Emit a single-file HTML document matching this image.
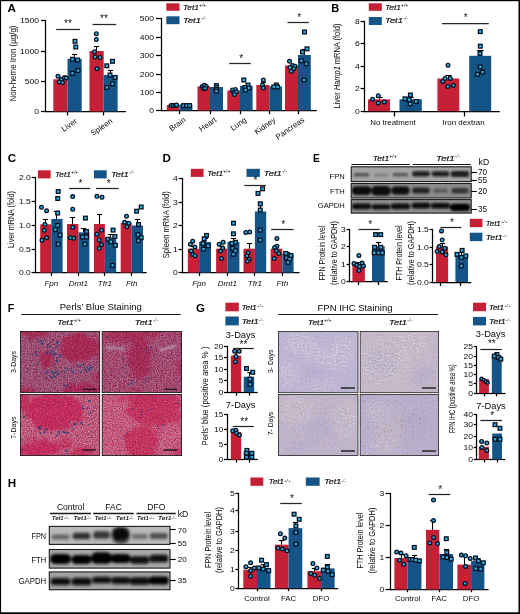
<!DOCTYPE html>
<html><head><meta charset="utf-8"><title>Figure</title>
<style>
html,body{margin:0;padding:0;background:#fff;}
body{width:520px;height:614px;overflow:hidden;font-family:"Liberation Sans",sans-serif;}
svg{display:block;font-family:"Liberation Sans",sans-serif;will-change:transform;-webkit-font-smoothing:antialiased;}
</style></head><body>
<svg width="520" height="614" viewBox="0 0 520 614">
<defs>
<filter id="b1" x="-30%" y="-60%" width="160%" height="220%"><feGaussianBlur stdDeviation="1.1"/></filter>
<filter id="b2" x="-30%" y="-60%" width="160%" height="220%"><feGaussianBlur stdDeviation="1.7"/></filter>
<filter id="b4" x="-40%" y="-40%" width="180%" height="180%"><feGaussianBlur stdDeviation="4"/></filter>
<filter id="b6" x="-40%" y="-40%" width="180%" height="180%"><feGaussianBlur stdDeviation="6"/></filter>
<filter id="nzP" x="0" y="0" width="100%" height="100%" color-interpolation-filters="sRGB">
  <feTurbulence type="fractalNoise" baseFrequency="0.83" numOctaves="2" seed="7" result="t"/>
  <feColorMatrix in="t" type="matrix" values="0.125 -0.188 0 0 0.641  0.750 0.062 0 0 -0.106  0.575 0.150 0 0 0.087  0 0 0 0 1"/>
</filter>
<filter id="nzP2" x="0" y="0" width="100%" height="100%" color-interpolation-filters="sRGB">
  <feTurbulence type="fractalNoise" baseFrequency="0.87" numOctaves="2" seed="23" result="t"/>
  <feColorMatrix in="t" type="matrix" values="0.125 -0.188 0 0 0.671  0.750 0.062 0 0 -0.126  0.575 0.150 0 0 0.077  0 0 0 0 1"/>
</filter>
<filter id="nzP3" x="0" y="0" width="100%" height="100%" color-interpolation-filters="sRGB">
  <feTurbulence type="fractalNoise" baseFrequency="0.85" numOctaves="2" seed="31" result="t"/>
  <feColorMatrix in="t" type="matrix" values="0.125 -0.188 0 0 0.811  0.750 0.062 0 0 -0.046  0.575 0.150 0 0 0.137  0 0 0 0 1"/>
</filter>
<filter id="nzP4" x="0" y="0" width="100%" height="100%" color-interpolation-filters="sRGB">
  <feTurbulence type="fractalNoise" baseFrequency="0.81" numOctaves="2" seed="47" result="t"/>
  <feColorMatrix in="t" type="matrix" values="0.125 -0.188 0 0 0.831  0.750 0.062 0 0 -0.046  0.575 0.150 0 0 0.147  0 0 0 0 1"/>
</filter>

<filter id="nzG" x="0" y="0" width="100%" height="100%" color-interpolation-filters="sRGB">
  <feTurbulence type="fractalNoise" baseFrequency="0.8" numOctaves="2" seed="3" result="t"/>
  <feColorMatrix in="t" type="matrix" values="0 0 0 0 0.45  0 0 0 0 0.05  0 0 0 0 0.18  0 2.4 0 0 -1.0"/>
</filter>
<filter id="nzL" x="0" y="0" width="100%" height="100%" color-interpolation-filters="sRGB">
  <feTurbulence type="fractalNoise" baseFrequency="0.8" numOctaves="2" seed="5" result="t"/>
  <feColorMatrix in="t" type="matrix" values="0 0 0 0 0.86  0 0 0 0 0.74  0 0 0 0 0.78  0 0 2.4 0 -1.0"/>
</filter>
<filter id="b3" x="-40%" y="-40%" width="180%" height="180%"><feGaussianBlur stdDeviation="1.8" result="g"/><feTurbulence type="fractalNoise" baseFrequency="0.12" numOctaves="2" seed="9" result="n"/><feDisplacementMap in="g" in2="n" scale="11" xChannelSelector="R" yChannelSelector="G"/></filter>
<filter id="nzI" x="0" y="0" width="100%" height="100%" color-interpolation-filters="sRGB">
  <feTurbulence type="fractalNoise" baseFrequency="0.6" numOctaves="2" seed="11" result="t"/>
  <feColorMatrix in="t" type="matrix" values="0.32 0 0 0 0.60  0.36 0 0 0 0.55  0.2 0 0 0 0.72  0 0 0 0 1"/>
</filter>
<filter id="nzT" x="0" y="0" width="100%" height="100%" color-interpolation-filters="sRGB">
  <feTurbulence type="fractalNoise" baseFrequency="0.9" numOctaves="1" seed="41" result="t"/>
  <feColorMatrix in="t" type="matrix" values="0 0 0 0 0.74  0 0 0 0 0.60  0 0 0 0 0.50  0 2.2 1.6 0 -1.75"/>
</filter>
</defs>
<rect x="0" y="0" width="520" height="614" fill="#fff"/>

<text transform="translate(7.60 12.40) scale(1.0 1)" x="0" y="0" font-size="11.6" font-weight="bold" fill="#000">A</text>
<line x1="45.50" y1="19.90" x2="45.50" y2="112.10" stroke="#000" stroke-width="1.25" stroke-linecap="butt"/>
<line x1="41.00" y1="20.50" x2="45.50" y2="20.50" stroke="#000" stroke-width="1.25" stroke-linecap="butt"/>
<text x="39.00" y="23.31" font-size="7.8" text-anchor="end" font-weight="normal" font-style="normal" fill="#0a0a0a" textLength="19.08" lengthAdjust="spacingAndGlyphs">1500</text>
<line x1="41.00" y1="51.50" x2="45.50" y2="51.50" stroke="#000" stroke-width="1.25" stroke-linecap="butt"/>
<text x="39.00" y="54.31" font-size="7.8" text-anchor="end" font-weight="normal" font-style="normal" fill="#0a0a0a" textLength="19.08" lengthAdjust="spacingAndGlyphs">1000</text>
<line x1="41.00" y1="81.50" x2="45.50" y2="81.50" stroke="#000" stroke-width="1.25" stroke-linecap="butt"/>
<text x="39.00" y="84.31" font-size="7.8" text-anchor="end" font-weight="normal" font-style="normal" fill="#0a0a0a" textLength="14.31" lengthAdjust="spacingAndGlyphs">500</text>
<line x1="41.00" y1="111.50" x2="45.50" y2="111.50" stroke="#000" stroke-width="1.25" stroke-linecap="butt"/>
<text x="39.00" y="114.31" font-size="7.8" text-anchor="end" font-weight="normal" font-style="normal" fill="#0a0a0a" textLength="4.77" lengthAdjust="spacingAndGlyphs">0</text>
<line x1="44.90" y1="111.50" x2="126.00" y2="111.50" stroke="#000" stroke-width="1.25" stroke-linecap="butt"/>
<line x1="67.50" y1="111.50" x2="67.50" y2="115.40" stroke="#000" stroke-width="1.25" stroke-linecap="butt"/>
<line x1="103.50" y1="111.50" x2="103.50" y2="115.40" stroke="#000" stroke-width="1.25" stroke-linecap="butt"/>
<text x="15.60" y="63.50" font-size="9.0" text-anchor="middle" font-weight="normal" font-style="normal" fill="#0a0a0a" transform="rotate(-90 15.60 63.50)" textLength="76.00" lengthAdjust="spacingAndGlyphs">Non-heme Iron (µg/g)</text>
<rect x="53.30" y="79.30" width="14.20" height="32.20" fill="#c62036"/>
<rect x="67.50" y="58.80" width="14.20" height="52.70" fill="#145487"/>
<rect x="89.50" y="51.00" width="14.20" height="60.50" fill="#c62036"/>
<rect x="103.70" y="75.00" width="13.90" height="36.50" fill="#145487"/>
<line x1="60.50" y1="79.30" x2="60.50" y2="77.50" stroke="#000" stroke-width="1.1" stroke-linecap="butt"/>
<line x1="57.90" y1="77.50" x2="63.10" y2="77.50" stroke="#000" stroke-width="1.1" stroke-linecap="butt"/>
<line x1="74.50" y1="58.80" x2="74.50" y2="54.50" stroke="#000" stroke-width="1.1" stroke-linecap="butt"/>
<line x1="71.90" y1="54.50" x2="77.10" y2="54.50" stroke="#000" stroke-width="1.1" stroke-linecap="butt"/>
<line x1="96.50" y1="51.00" x2="96.50" y2="46.50" stroke="#000" stroke-width="1.1" stroke-linecap="butt"/>
<line x1="93.90" y1="46.50" x2="99.10" y2="46.50" stroke="#000" stroke-width="1.1" stroke-linecap="butt"/>
<line x1="110.50" y1="75.00" x2="110.50" y2="70.50" stroke="#000" stroke-width="1.1" stroke-linecap="butt"/>
<line x1="107.90" y1="70.50" x2="113.10" y2="70.50" stroke="#000" stroke-width="1.1" stroke-linecap="butt"/>
<circle cx="58.00" cy="76.20" r="1.85" fill="#2bb1e8" stroke="#04101f" stroke-width="1.3"/>
<circle cx="61.30" cy="79.50" r="1.85" fill="#2bb1e8" stroke="#04101f" stroke-width="1.3"/>
<circle cx="64.50" cy="77.50" r="1.85" fill="#2bb1e8" stroke="#04101f" stroke-width="1.3"/>
<circle cx="66.30" cy="78.00" r="1.85" fill="#2bb1e8" stroke="#04101f" stroke-width="1.3"/>
<circle cx="59.30" cy="82.00" r="1.85" fill="#2bb1e8" stroke="#04101f" stroke-width="1.3"/>
<circle cx="62.50" cy="82.50" r="1.85" fill="#2bb1e8" stroke="#04101f" stroke-width="1.3"/>
<rect x="73.15" y="39.45" width="3.7" height="3.7" fill="#2bb1e8" stroke="#04101f" stroke-width="1.3"/>
<rect x="73.95" y="45.15" width="3.7" height="3.7" fill="#2bb1e8" stroke="#04101f" stroke-width="1.3"/>
<rect x="70.65" y="57.45" width="3.7" height="3.7" fill="#2bb1e8" stroke="#04101f" stroke-width="1.3"/>
<rect x="75.65" y="58.15" width="3.7" height="3.7" fill="#2bb1e8" stroke="#04101f" stroke-width="1.3"/>
<rect x="76.15" y="68.65" width="3.7" height="3.7" fill="#2bb1e8" stroke="#04101f" stroke-width="1.3"/>
<rect x="70.65" y="71.45" width="3.7" height="3.7" fill="#2bb1e8" stroke="#04101f" stroke-width="1.3"/>
<circle cx="96.30" cy="33.80" r="1.85" fill="#2bb1e8" stroke="#04101f" stroke-width="1.3"/>
<circle cx="96.30" cy="39.50" r="1.85" fill="#2bb1e8" stroke="#04101f" stroke-width="1.3"/>
<circle cx="94.50" cy="51.80" r="1.85" fill="#2bb1e8" stroke="#04101f" stroke-width="1.3"/>
<circle cx="100.00" cy="57.50" r="1.85" fill="#2bb1e8" stroke="#04101f" stroke-width="1.3"/>
<circle cx="95.00" cy="57.00" r="1.85" fill="#2bb1e8" stroke="#04101f" stroke-width="1.3"/>
<circle cx="97.00" cy="68.80" r="1.85" fill="#2bb1e8" stroke="#04101f" stroke-width="1.3"/>
<rect x="110.65" y="59.45" width="3.7" height="3.7" fill="#2bb1e8" stroke="#04101f" stroke-width="1.3"/>
<rect x="104.95" y="63.95" width="3.7" height="3.7" fill="#2bb1e8" stroke="#04101f" stroke-width="1.3"/>
<rect x="108.15" y="73.15" width="3.7" height="3.7" fill="#2bb1e8" stroke="#04101f" stroke-width="1.3"/>
<rect x="113.15" y="75.65" width="3.7" height="3.7" fill="#2bb1e8" stroke="#04101f" stroke-width="1.3"/>
<rect x="110.65" y="81.95" width="3.7" height="3.7" fill="#2bb1e8" stroke="#04101f" stroke-width="1.3"/>
<rect x="104.95" y="85.65" width="3.7" height="3.7" fill="#2bb1e8" stroke="#04101f" stroke-width="1.3"/>
<line x1="56.20" y1="29.50" x2="80.00" y2="29.50" stroke="#262626" stroke-width="1.25" stroke-linecap="butt"/>
<text x="68.00" y="27.15" font-size="10" text-anchor="middle" font-weight="normal" font-style="normal" fill="#111">**</text>
<line x1="92.50" y1="24.50" x2="116.20" y2="24.50" stroke="#262626" stroke-width="1.25" stroke-linecap="butt"/>
<text x="104.00" y="22.25" font-size="10" text-anchor="middle" font-weight="normal" font-style="normal" fill="#111">**</text>
<text x="77.60" y="122.20" font-size="7.8" text-anchor="end" font-weight="normal" font-style="normal" fill="#0a0a0a" transform="rotate(-35 77.60 122.20)">Liver</text>
<text x="113.00" y="122.20" font-size="7.8" text-anchor="end" font-weight="normal" font-style="normal" fill="#0a0a0a" transform="rotate(-35 113.00 122.20)">Spleen</text>
<line x1="161.50" y1="17.90" x2="161.50" y2="111.10" stroke="#000" stroke-width="1.25" stroke-linecap="butt"/>
<line x1="156.00" y1="18.50" x2="161.50" y2="18.50" stroke="#000" stroke-width="1.25" stroke-linecap="butt"/>
<text x="154.00" y="21.31" font-size="7.8" text-anchor="end" font-weight="normal" font-style="normal" fill="#0a0a0a" textLength="14.31" lengthAdjust="spacingAndGlyphs">500</text>
<line x1="156.00" y1="37.50" x2="161.50" y2="37.50" stroke="#000" stroke-width="1.25" stroke-linecap="butt"/>
<text x="154.00" y="40.31" font-size="7.8" text-anchor="end" font-weight="normal" font-style="normal" fill="#0a0a0a" textLength="14.31" lengthAdjust="spacingAndGlyphs">400</text>
<line x1="156.00" y1="55.50" x2="161.50" y2="55.50" stroke="#000" stroke-width="1.25" stroke-linecap="butt"/>
<text x="154.00" y="58.31" font-size="7.8" text-anchor="end" font-weight="normal" font-style="normal" fill="#0a0a0a" textLength="14.31" lengthAdjust="spacingAndGlyphs">300</text>
<line x1="156.00" y1="74.50" x2="161.50" y2="74.50" stroke="#000" stroke-width="1.25" stroke-linecap="butt"/>
<text x="154.00" y="77.31" font-size="7.8" text-anchor="end" font-weight="normal" font-style="normal" fill="#0a0a0a" textLength="14.31" lengthAdjust="spacingAndGlyphs">200</text>
<line x1="156.00" y1="92.50" x2="161.50" y2="92.50" stroke="#000" stroke-width="1.25" stroke-linecap="butt"/>
<text x="154.00" y="95.31" font-size="7.8" text-anchor="end" font-weight="normal" font-style="normal" fill="#0a0a0a" textLength="14.31" lengthAdjust="spacingAndGlyphs">100</text>
<line x1="156.00" y1="110.50" x2="161.50" y2="110.50" stroke="#000" stroke-width="1.25" stroke-linecap="butt"/>
<text x="154.00" y="113.31" font-size="7.8" text-anchor="end" font-weight="normal" font-style="normal" fill="#0a0a0a" textLength="4.77" lengthAdjust="spacingAndGlyphs">0</text>
<line x1="160.90" y1="110.50" x2="316.80" y2="110.50" stroke="#000" stroke-width="1.25" stroke-linecap="butt"/>
<line x1="179.50" y1="110.50" x2="179.50" y2="114.20" stroke="#000" stroke-width="1.25" stroke-linecap="butt"/>
<line x1="210.50" y1="110.50" x2="210.50" y2="114.20" stroke="#000" stroke-width="1.25" stroke-linecap="butt"/>
<line x1="240.50" y1="110.50" x2="240.50" y2="114.20" stroke="#000" stroke-width="1.25" stroke-linecap="butt"/>
<line x1="269.50" y1="110.50" x2="269.50" y2="114.20" stroke="#000" stroke-width="1.25" stroke-linecap="butt"/>
<line x1="298.50" y1="110.50" x2="298.50" y2="114.20" stroke="#000" stroke-width="1.25" stroke-linecap="butt"/>
<rect x="166.80" y="105.00" width="12.50" height="5.50" fill="#c62036"/>
<rect x="179.30" y="104.50" width="13.10" height="6.00" fill="#145487"/>
<rect x="197.50" y="86.30" width="12.50" height="24.20" fill="#c62036"/>
<rect x="210.00" y="87.00" width="13.00" height="23.50" fill="#145487"/>
<rect x="227.30" y="90.50" width="12.70" height="20.00" fill="#c62036"/>
<rect x="240.00" y="85.80" width="12.60" height="24.70" fill="#145487"/>
<rect x="256.30" y="85.00" width="13.00" height="25.50" fill="#c62036"/>
<rect x="269.30" y="86.30" width="12.70" height="24.20" fill="#145487"/>
<rect x="285.00" y="65.50" width="13.00" height="45.00" fill="#c62036"/>
<rect x="298.00" y="55.00" width="12.80" height="55.50" fill="#145487"/>
<rect x="166.30" y="3.30" width="13.20" height="7.50" fill="#c62036"/>
<rect x="166.30" y="16.30" width="13.20" height="7.90" fill="#145487"/>
<text x="183.00" y="9.60" font-size="7.52" text-anchor="start" font-style="italic" fill="#0a0a0a" stroke="#0a0a0a" stroke-width="0.18" textLength="23.26" lengthAdjust="spacingAndGlyphs">Tet1<tspan font-size="4.51" dy="-2.86" fill="#0a0a0a" stroke="none">+/+</tspan></text>
<text x="183.00" y="22.80" font-size="7.52" text-anchor="start" font-style="italic" fill="#0a0a0a" stroke="#0a0a0a" stroke-width="0.18" textLength="23.26" lengthAdjust="spacingAndGlyphs">Tet1<tspan font-size="4.51" dy="-2.86" fill="#555" stroke="none">-/-</tspan></text>
<circle cx="171.00" cy="105.50" r="1.85" fill="#2bb1e8" stroke="#04101f" stroke-width="1.3"/>
<circle cx="173.00" cy="105.20" r="1.85" fill="#2bb1e8" stroke="#04101f" stroke-width="1.3"/>
<circle cx="175.00" cy="105.60" r="1.85" fill="#2bb1e8" stroke="#04101f" stroke-width="1.3"/>
<circle cx="176.60" cy="105.00" r="1.85" fill="#2bb1e8" stroke="#04101f" stroke-width="1.3"/>
<rect x="181.75" y="103.75" width="3.7" height="3.7" fill="#2bb1e8" stroke="#04101f" stroke-width="1.3"/>
<rect x="184.75" y="103.75" width="3.7" height="3.7" fill="#2bb1e8" stroke="#04101f" stroke-width="1.3"/>
<rect x="187.65" y="103.75" width="3.7" height="3.7" fill="#2bb1e8" stroke="#04101f" stroke-width="1.3"/>
<circle cx="202.30" cy="86.50" r="1.85" fill="#2bb1e8" stroke="#04101f" stroke-width="1.3"/>
<circle cx="204.20" cy="85.20" r="1.85" fill="#2bb1e8" stroke="#04101f" stroke-width="1.3"/>
<circle cx="206.20" cy="86.30" r="1.85" fill="#2bb1e8" stroke="#04101f" stroke-width="1.3"/>
<circle cx="203.60" cy="88.60" r="1.85" fill="#2bb1e8" stroke="#04101f" stroke-width="1.3"/>
<circle cx="205.40" cy="88.40" r="1.85" fill="#2bb1e8" stroke="#04101f" stroke-width="1.3"/>
<rect x="214.55" y="83.75" width="3.7" height="3.7" fill="#2bb1e8" stroke="#04101f" stroke-width="1.3"/>
<rect x="214.75" y="85.75" width="3.7" height="3.7" fill="#2bb1e8" stroke="#04101f" stroke-width="1.3"/>
<rect x="214.45" y="87.65" width="3.7" height="3.7" fill="#2bb1e8" stroke="#04101f" stroke-width="1.3"/>
<rect x="214.55" y="89.35" width="3.7" height="3.7" fill="#2bb1e8" stroke="#04101f" stroke-width="1.3"/>
<circle cx="232.50" cy="90.00" r="1.85" fill="#2bb1e8" stroke="#04101f" stroke-width="1.3"/>
<circle cx="235.50" cy="89.50" r="1.85" fill="#2bb1e8" stroke="#04101f" stroke-width="1.3"/>
<circle cx="233.80" cy="92.50" r="1.85" fill="#2bb1e8" stroke="#04101f" stroke-width="1.3"/>
<circle cx="236.30" cy="92.00" r="1.85" fill="#2bb1e8" stroke="#04101f" stroke-width="1.3"/>
<circle cx="234.50" cy="94.50" r="1.85" fill="#2bb1e8" stroke="#04101f" stroke-width="1.3"/>
<rect x="241.95" y="78.15" width="3.7" height="3.7" fill="#2bb1e8" stroke="#04101f" stroke-width="1.3"/>
<rect x="246.15" y="83.15" width="3.7" height="3.7" fill="#2bb1e8" stroke="#04101f" stroke-width="1.3"/>
<rect x="243.15" y="85.65" width="3.7" height="3.7" fill="#2bb1e8" stroke="#04101f" stroke-width="1.3"/>
<rect x="246.95" y="86.15" width="3.7" height="3.7" fill="#2bb1e8" stroke="#04101f" stroke-width="1.3"/>
<rect x="243.65" y="88.15" width="3.7" height="3.7" fill="#2bb1e8" stroke="#04101f" stroke-width="1.3"/>
<line x1="263.50" y1="85.00" x2="263.50" y2="82.50" stroke="#000" stroke-width="1.1" stroke-linecap="butt"/>
<line x1="260.90" y1="82.50" x2="266.10" y2="82.50" stroke="#000" stroke-width="1.1" stroke-linecap="butt"/>
<circle cx="263.30" cy="80.00" r="1.85" fill="#2bb1e8" stroke="#04101f" stroke-width="1.3"/>
<circle cx="262.50" cy="85.00" r="1.85" fill="#2bb1e8" stroke="#04101f" stroke-width="1.3"/>
<circle cx="263.30" cy="88.00" r="1.85" fill="#2bb1e8" stroke="#04101f" stroke-width="1.3"/>
<rect x="274.45" y="83.15" width="3.7" height="3.7" fill="#2bb1e8" stroke="#04101f" stroke-width="1.3"/>
<rect x="271.95" y="85.15" width="3.7" height="3.7" fill="#2bb1e8" stroke="#04101f" stroke-width="1.3"/>
<rect x="275.65" y="85.15" width="3.7" height="3.7" fill="#2bb1e8" stroke="#04101f" stroke-width="1.3"/>
<circle cx="289.50" cy="61.30" r="1.85" fill="#2bb1e8" stroke="#04101f" stroke-width="1.3"/>
<circle cx="292.50" cy="65.50" r="1.85" fill="#2bb1e8" stroke="#04101f" stroke-width="1.3"/>
<circle cx="295.00" cy="66.30" r="1.85" fill="#2bb1e8" stroke="#04101f" stroke-width="1.3"/>
<circle cx="290.00" cy="67.50" r="1.85" fill="#2bb1e8" stroke="#04101f" stroke-width="1.3"/>
<circle cx="293.80" cy="68.80" r="1.85" fill="#2bb1e8" stroke="#04101f" stroke-width="1.3"/>
<circle cx="291.30" cy="71.30" r="1.85" fill="#2bb1e8" stroke="#04101f" stroke-width="1.3"/>
<line x1="304.50" y1="55.00" x2="304.50" y2="49.50" stroke="#000" stroke-width="1.1" stroke-linecap="butt"/>
<line x1="301.90" y1="49.50" x2="307.10" y2="49.50" stroke="#000" stroke-width="1.1" stroke-linecap="butt"/>
<rect x="302.65" y="30.15" width="3.7" height="3.7" fill="#2bb1e8" stroke="#04101f" stroke-width="1.3"/>
<rect x="305.15" y="46.95" width="3.7" height="3.7" fill="#2bb1e8" stroke="#04101f" stroke-width="1.3"/>
<rect x="300.65" y="50.15" width="3.7" height="3.7" fill="#2bb1e8" stroke="#04101f" stroke-width="1.3"/>
<rect x="299.45" y="58.95" width="3.7" height="3.7" fill="#2bb1e8" stroke="#04101f" stroke-width="1.3"/>
<rect x="304.45" y="61.95" width="3.7" height="3.7" fill="#2bb1e8" stroke="#04101f" stroke-width="1.3"/>
<rect x="302.15" y="78.15" width="3.7" height="3.7" fill="#2bb1e8" stroke="#04101f" stroke-width="1.3"/>
<line x1="229.30" y1="63.50" x2="250.80" y2="63.50" stroke="#262626" stroke-width="1.25" stroke-linecap="butt"/>
<text x="241.20" y="62.25" font-size="10" text-anchor="middle" font-weight="normal" font-style="normal" fill="#111">*</text>
<line x1="287.50" y1="22.50" x2="308.80" y2="22.50" stroke="#262626" stroke-width="1.25" stroke-linecap="butt"/>
<text x="299.30" y="20.95" font-size="10" text-anchor="middle" font-weight="normal" font-style="normal" fill="#111">*</text>
<text x="186.30" y="121.00" font-size="7.8" text-anchor="end" font-weight="normal" font-style="normal" fill="#0a0a0a" transform="rotate(-35 186.30 121.00)">Brain</text>
<text x="217.00" y="121.00" font-size="7.8" text-anchor="end" font-weight="normal" font-style="normal" fill="#0a0a0a" transform="rotate(-35 217.00 121.00)">Heart</text>
<text x="247.00" y="121.00" font-size="7.8" text-anchor="end" font-weight="normal" font-style="normal" fill="#0a0a0a" transform="rotate(-35 247.00 121.00)">Lung</text>
<text x="276.30" y="121.00" font-size="7.8" text-anchor="end" font-weight="normal" font-style="normal" fill="#0a0a0a" transform="rotate(-35 276.30 121.00)">Kidney</text>
<text x="305.00" y="121.00" font-size="7.8" text-anchor="end" font-weight="normal" font-style="normal" fill="#0a0a0a" transform="rotate(-35 305.00 121.00)">Pancreas</text>
<text transform="translate(331.20 12.30) scale(0.95 1)" x="0" y="0" font-size="11.6" font-weight="bold" fill="#000">B</text>
<line x1="364.50" y1="20.90" x2="364.50" y2="112.10" stroke="#000" stroke-width="1.25" stroke-linecap="butt"/>
<line x1="360.60" y1="21.50" x2="364.50" y2="21.50" stroke="#000" stroke-width="1.25" stroke-linecap="butt"/>
<text x="359.90" y="24.31" font-size="7.8" text-anchor="end" font-weight="normal" font-style="normal" fill="#0a0a0a" textLength="4.77" lengthAdjust="spacingAndGlyphs">8</text>
<line x1="360.60" y1="43.50" x2="364.50" y2="43.50" stroke="#000" stroke-width="1.25" stroke-linecap="butt"/>
<text x="359.90" y="46.31" font-size="7.8" text-anchor="end" font-weight="normal" font-style="normal" fill="#0a0a0a" textLength="4.77" lengthAdjust="spacingAndGlyphs">6</text>
<line x1="360.60" y1="66.50" x2="364.50" y2="66.50" stroke="#000" stroke-width="1.25" stroke-linecap="butt"/>
<text x="359.90" y="69.31" font-size="7.8" text-anchor="end" font-weight="normal" font-style="normal" fill="#0a0a0a" textLength="4.77" lengthAdjust="spacingAndGlyphs">4</text>
<line x1="360.60" y1="88.50" x2="364.50" y2="88.50" stroke="#000" stroke-width="1.25" stroke-linecap="butt"/>
<text x="359.90" y="91.31" font-size="7.8" text-anchor="end" font-weight="normal" font-style="normal" fill="#0a0a0a" textLength="4.77" lengthAdjust="spacingAndGlyphs">2</text>
<line x1="360.60" y1="111.50" x2="364.50" y2="111.50" stroke="#000" stroke-width="1.25" stroke-linecap="butt"/>
<text x="359.90" y="114.31" font-size="7.8" text-anchor="end" font-weight="normal" font-style="normal" fill="#0a0a0a" textLength="4.77" lengthAdjust="spacingAndGlyphs">0</text>
<line x1="363.90" y1="111.50" x2="499.80" y2="111.50" stroke="#000" stroke-width="1.25" stroke-linecap="butt"/>
<line x1="394.50" y1="111.50" x2="394.50" y2="116.50" stroke="#000" stroke-width="1.25" stroke-linecap="butt"/>
<line x1="464.50" y1="111.50" x2="464.50" y2="116.50" stroke="#000" stroke-width="1.25" stroke-linecap="butt"/>
<text x="340.0" y="66" font-size="8.8" text-anchor="middle" fill="#0a0a0a" transform="rotate(-90 340.0 66)" textLength="85" lengthAdjust="spacingAndGlyphs">Liver <tspan font-style="italic">Hamp1</tspan> mRNA (fold)</text>
<rect x="368.80" y="3.30" width="13.00" height="7.50" fill="#c62036"/>
<rect x="368.80" y="17.00" width="13.00" height="8.00" fill="#145487"/>
<text x="385.00" y="9.60" font-size="7.52" text-anchor="start" font-style="italic" fill="#0a0a0a" stroke="#0a0a0a" stroke-width="0.18" textLength="23.26" lengthAdjust="spacingAndGlyphs">Tet1<tspan font-size="4.51" dy="-2.86" fill="#0a0a0a" stroke="none">+/+</tspan></text>
<text x="385.00" y="23.20" font-size="7.52" text-anchor="start" font-style="italic" fill="#0a0a0a" stroke="#0a0a0a" stroke-width="0.18" textLength="23.26" lengthAdjust="spacingAndGlyphs">Tet1<tspan font-size="4.51" dy="-2.86" fill="#555" stroke="none">-/-</tspan></text>
<rect x="368.00" y="99.30" width="22.00" height="11.90" fill="#c62036"/>
<rect x="399.50" y="99.30" width="22.30" height="11.90" fill="#145487"/>
<rect x="437.40" y="78.50" width="21.90" height="32.70" fill="#c62036"/>
<rect x="469.20" y="55.80" width="22.00" height="55.40" fill="#145487"/>
<line x1="379.50" y1="99.30" x2="379.50" y2="97.50" stroke="#000" stroke-width="1.1" stroke-linecap="butt"/>
<line x1="376.30" y1="97.50" x2="382.70" y2="97.50" stroke="#000" stroke-width="1.1" stroke-linecap="butt"/>
<line x1="410.50" y1="99.30" x2="410.50" y2="97.50" stroke="#000" stroke-width="1.1" stroke-linecap="butt"/>
<line x1="407.30" y1="97.50" x2="413.70" y2="97.50" stroke="#000" stroke-width="1.1" stroke-linecap="butt"/>
<line x1="448.50" y1="78.50" x2="448.50" y2="75.50" stroke="#000" stroke-width="1.1" stroke-linecap="butt"/>
<line x1="445.30" y1="75.50" x2="451.70" y2="75.50" stroke="#000" stroke-width="1.1" stroke-linecap="butt"/>
<line x1="480.50" y1="55.80" x2="480.50" y2="50.50" stroke="#000" stroke-width="1.1" stroke-linecap="butt"/>
<line x1="477.30" y1="50.50" x2="483.70" y2="50.50" stroke="#000" stroke-width="1.1" stroke-linecap="butt"/>
<circle cx="378.30" cy="95.80" r="1.85" fill="#2bb1e8" stroke="#04101f" stroke-width="1.3"/>
<circle cx="372.50" cy="99.30" r="1.85" fill="#2bb1e8" stroke="#04101f" stroke-width="1.3"/>
<circle cx="384.30" cy="102.00" r="1.85" fill="#2bb1e8" stroke="#04101f" stroke-width="1.3"/>
<circle cx="378.30" cy="103.00" r="1.85" fill="#2bb1e8" stroke="#04101f" stroke-width="1.3"/>
<rect x="408.55" y="93.15" width="3.7" height="3.7" fill="#2bb1e8" stroke="#04101f" stroke-width="1.3"/>
<rect x="403.15" y="96.95" width="3.7" height="3.7" fill="#2bb1e8" stroke="#04101f" stroke-width="1.3"/>
<rect x="407.35" y="97.85" width="3.7" height="3.7" fill="#2bb1e8" stroke="#04101f" stroke-width="1.3"/>
<rect x="414.35" y="99.65" width="3.7" height="3.7" fill="#2bb1e8" stroke="#04101f" stroke-width="1.3"/>
<rect x="408.35" y="101.95" width="3.7" height="3.7" fill="#2bb1e8" stroke="#04101f" stroke-width="1.3"/>
<circle cx="448.00" cy="65.30" r="1.85" fill="#2bb1e8" stroke="#04101f" stroke-width="1.3"/>
<circle cx="445.00" cy="78.50" r="1.85" fill="#2bb1e8" stroke="#04101f" stroke-width="1.3"/>
<circle cx="450.30" cy="78.50" r="1.85" fill="#2bb1e8" stroke="#04101f" stroke-width="1.3"/>
<circle cx="442.70" cy="81.50" r="1.85" fill="#2bb1e8" stroke="#04101f" stroke-width="1.3"/>
<circle cx="453.50" cy="85.40" r="1.85" fill="#2bb1e8" stroke="#04101f" stroke-width="1.3"/>
<circle cx="447.80" cy="86.50" r="1.85" fill="#2bb1e8" stroke="#04101f" stroke-width="1.3"/>
<rect x="478.45" y="29.75" width="3.7" height="3.7" fill="#2bb1e8" stroke="#04101f" stroke-width="1.3"/>
<rect x="478.45" y="44.35" width="3.7" height="3.7" fill="#2bb1e8" stroke="#04101f" stroke-width="1.3"/>
<rect x="478.15" y="51.65" width="3.7" height="3.7" fill="#2bb1e8" stroke="#04101f" stroke-width="1.3"/>
<rect x="478.45" y="65.05" width="3.7" height="3.7" fill="#2bb1e8" stroke="#04101f" stroke-width="1.3"/>
<rect x="480.75" y="70.35" width="3.7" height="3.7" fill="#2bb1e8" stroke="#04101f" stroke-width="1.3"/>
<rect x="475.65" y="72.45" width="3.7" height="3.7" fill="#2bb1e8" stroke="#04101f" stroke-width="1.3"/>
<line x1="442.00" y1="23.50" x2="488.80" y2="23.50" stroke="#262626" stroke-width="1.25" stroke-linecap="butt"/>
<text x="465.80" y="21.45" font-size="10" text-anchor="middle" font-weight="normal" font-style="normal" fill="#111">*</text>
<text x="393.00" y="124.80" font-size="7.9" text-anchor="middle" font-weight="normal" font-style="normal" fill="#0a0a0a">No treatment</text>
<text x="463.60" y="124.80" font-size="7.9" text-anchor="middle" font-weight="normal" font-style="normal" fill="#0a0a0a">Iron dextran</text>
<text transform="translate(7.70 162.30) scale(1.0 1)" x="0" y="0" font-size="11.6" font-weight="bold" fill="#000">C</text>
<line x1="35.50" y1="176.90" x2="35.50" y2="273.10" stroke="#000" stroke-width="1.25" stroke-linecap="butt"/>
<line x1="31.60" y1="177.50" x2="35.50" y2="177.50" stroke="#000" stroke-width="1.25" stroke-linecap="butt"/>
<text x="30.90" y="180.31" font-size="7.8" text-anchor="end" font-weight="normal" font-style="normal" fill="#0a0a0a" textLength="11.93" lengthAdjust="spacingAndGlyphs">2.0</text>
<line x1="31.60" y1="201.50" x2="35.50" y2="201.50" stroke="#000" stroke-width="1.25" stroke-linecap="butt"/>
<text x="30.90" y="204.31" font-size="7.8" text-anchor="end" font-weight="normal" font-style="normal" fill="#0a0a0a" textLength="11.93" lengthAdjust="spacingAndGlyphs">1.5</text>
<line x1="31.60" y1="225.50" x2="35.50" y2="225.50" stroke="#000" stroke-width="1.25" stroke-linecap="butt"/>
<text x="30.90" y="228.31" font-size="7.8" text-anchor="end" font-weight="normal" font-style="normal" fill="#0a0a0a" textLength="11.93" lengthAdjust="spacingAndGlyphs">1.0</text>
<line x1="31.60" y1="249.50" x2="35.50" y2="249.50" stroke="#000" stroke-width="1.25" stroke-linecap="butt"/>
<text x="30.90" y="252.31" font-size="7.8" text-anchor="end" font-weight="normal" font-style="normal" fill="#0a0a0a" textLength="11.93" lengthAdjust="spacingAndGlyphs">0.5</text>
<line x1="31.60" y1="272.50" x2="35.50" y2="272.50" stroke="#000" stroke-width="1.25" stroke-linecap="butt"/>
<text x="30.90" y="275.31" font-size="7.8" text-anchor="end" font-weight="normal" font-style="normal" fill="#0a0a0a" textLength="11.93" lengthAdjust="spacingAndGlyphs">0.0</text>
<line x1="34.90" y1="272.50" x2="146.60" y2="272.50" stroke="#000" stroke-width="1.25" stroke-linecap="butt"/>
<line x1="51.50" y1="272.50" x2="51.50" y2="276.00" stroke="#000" stroke-width="1.25" stroke-linecap="butt"/>
<line x1="78.50" y1="272.50" x2="78.50" y2="276.00" stroke="#000" stroke-width="1.25" stroke-linecap="butt"/>
<line x1="104.50" y1="272.50" x2="104.50" y2="276.00" stroke="#000" stroke-width="1.25" stroke-linecap="butt"/>
<line x1="131.50" y1="272.50" x2="131.50" y2="276.00" stroke="#000" stroke-width="1.25" stroke-linecap="butt"/>
<text x="13.60" y="219.50" font-size="8.8" text-anchor="middle" font-weight="normal" font-style="normal" fill="#0a0a0a" transform="rotate(-90 13.60 219.50)" textLength="57.00" lengthAdjust="spacingAndGlyphs">Liver mRNA (fold)</text>
<rect x="37.90" y="170.30" width="12.80" height="8.10" fill="#c62036"/>
<rect x="93.90" y="170.30" width="12.80" height="8.10" fill="#145487"/>
<text x="55.00" y="177.00" font-size="7.52" text-anchor="start" font-style="italic" fill="#0a0a0a" stroke="#0a0a0a" stroke-width="0.18" textLength="23.26" lengthAdjust="spacingAndGlyphs">Tet1<tspan font-size="4.51" dy="-2.86" fill="#0a0a0a" stroke="none">+/+</tspan></text>
<text x="110.90" y="177.00" font-size="7.52" text-anchor="start" font-style="italic" fill="#0a0a0a" stroke="#0a0a0a" stroke-width="0.18" textLength="23.26" lengthAdjust="spacingAndGlyphs">Tet1<tspan font-size="4.51" dy="-2.86" fill="#555" stroke="none">-/-</tspan></text>
<rect x="40.20" y="224.30" width="11.10" height="48.30" fill="#c62036"/>
<rect x="51.30" y="218.90" width="11.30" height="53.70" fill="#145487"/>
<line x1="45.50" y1="224.30" x2="45.50" y2="219.50" stroke="#000" stroke-width="1.1" stroke-linecap="butt"/>
<line x1="42.90" y1="219.50" x2="48.10" y2="219.50" stroke="#000" stroke-width="1.1" stroke-linecap="butt"/>
<line x1="56.50" y1="218.90" x2="56.50" y2="211.50" stroke="#000" stroke-width="1.1" stroke-linecap="butt"/>
<line x1="53.90" y1="211.50" x2="59.10" y2="211.50" stroke="#000" stroke-width="1.1" stroke-linecap="butt"/>
<rect x="67.00" y="224.00" width="11.40" height="48.60" fill="#c62036"/>
<rect x="78.40" y="232.30" width="11.00" height="40.30" fill="#145487"/>
<line x1="72.50" y1="224.00" x2="72.50" y2="217.50" stroke="#000" stroke-width="1.1" stroke-linecap="butt"/>
<line x1="69.90" y1="217.50" x2="75.10" y2="217.50" stroke="#000" stroke-width="1.1" stroke-linecap="butt"/>
<line x1="83.50" y1="232.30" x2="83.50" y2="228.50" stroke="#000" stroke-width="1.1" stroke-linecap="butt"/>
<line x1="80.90" y1="228.50" x2="86.10" y2="228.50" stroke="#000" stroke-width="1.1" stroke-linecap="butt"/>
<rect x="93.90" y="224.00" width="11.00" height="48.60" fill="#c62036"/>
<rect x="104.90" y="237.40" width="11.30" height="35.20" fill="#145487"/>
<line x1="99.50" y1="224.00" x2="99.50" y2="214.50" stroke="#000" stroke-width="1.1" stroke-linecap="butt"/>
<line x1="96.90" y1="214.50" x2="102.10" y2="214.50" stroke="#000" stroke-width="1.1" stroke-linecap="butt"/>
<line x1="110.50" y1="237.40" x2="110.50" y2="234.50" stroke="#000" stroke-width="1.1" stroke-linecap="butt"/>
<line x1="107.90" y1="234.50" x2="113.10" y2="234.50" stroke="#000" stroke-width="1.1" stroke-linecap="butt"/>
<rect x="120.70" y="223.10" width="11.00" height="49.50" fill="#c62036"/>
<rect x="131.70" y="225.50" width="11.30" height="47.10" fill="#145487"/>
<line x1="126.50" y1="223.10" x2="126.50" y2="221.50" stroke="#000" stroke-width="1.1" stroke-linecap="butt"/>
<line x1="123.90" y1="221.50" x2="129.10" y2="221.50" stroke="#000" stroke-width="1.1" stroke-linecap="butt"/>
<line x1="137.50" y1="225.50" x2="137.50" y2="219.50" stroke="#000" stroke-width="1.1" stroke-linecap="butt"/>
<line x1="134.90" y1="219.50" x2="140.10" y2="219.50" stroke="#000" stroke-width="1.1" stroke-linecap="butt"/>
<circle cx="41.50" cy="207.20" r="1.85" fill="#2bb1e8" stroke="#04101f" stroke-width="1.3"/>
<circle cx="46.60" cy="210.70" r="1.85" fill="#2bb1e8" stroke="#04101f" stroke-width="1.3"/>
<circle cx="45.00" cy="224.50" r="1.85" fill="#2bb1e8" stroke="#04101f" stroke-width="1.3"/>
<circle cx="44.30" cy="230.30" r="1.85" fill="#2bb1e8" stroke="#04101f" stroke-width="1.3"/>
<circle cx="46.60" cy="237.70" r="1.85" fill="#2bb1e8" stroke="#04101f" stroke-width="1.3"/>
<circle cx="42.00" cy="240.20" r="1.85" fill="#2bb1e8" stroke="#04101f" stroke-width="1.3"/>
<rect x="56.35" y="189.65" width="3.7" height="3.7" fill="#2bb1e8" stroke="#04101f" stroke-width="1.3"/>
<rect x="55.85" y="196.65" width="3.7" height="3.7" fill="#2bb1e8" stroke="#04101f" stroke-width="1.3"/>
<rect x="55.85" y="211.15" width="3.7" height="3.7" fill="#2bb1e8" stroke="#04101f" stroke-width="1.3"/>
<rect x="55.85" y="223.65" width="3.7" height="3.7" fill="#2bb1e8" stroke="#04101f" stroke-width="1.3"/>
<rect x="53.55" y="227.75" width="3.7" height="3.7" fill="#2bb1e8" stroke="#04101f" stroke-width="1.3"/>
<rect x="58.15" y="233.15" width="3.7" height="3.7" fill="#2bb1e8" stroke="#04101f" stroke-width="1.3"/>
<rect x="56.35" y="242.35" width="3.7" height="3.7" fill="#2bb1e8" stroke="#04101f" stroke-width="1.3"/>
<circle cx="72.70" cy="196.60" r="1.85" fill="#2bb1e8" stroke="#04101f" stroke-width="1.3"/>
<circle cx="72.70" cy="209.30" r="1.85" fill="#2bb1e8" stroke="#04101f" stroke-width="1.3"/>
<circle cx="72.70" cy="227.30" r="1.85" fill="#2bb1e8" stroke="#04101f" stroke-width="1.3"/>
<circle cx="70.40" cy="237.70" r="1.85" fill="#2bb1e8" stroke="#04101f" stroke-width="1.3"/>
<circle cx="73.80" cy="238.20" r="1.85" fill="#2bb1e8" stroke="#04101f" stroke-width="1.3"/>
<rect x="83.55" y="216.25" width="3.7" height="3.7" fill="#2bb1e8" stroke="#04101f" stroke-width="1.3"/>
<rect x="84.65" y="229.65" width="3.7" height="3.7" fill="#2bb1e8" stroke="#04101f" stroke-width="1.3"/>
<rect x="80.75" y="235.15" width="3.7" height="3.7" fill="#2bb1e8" stroke="#04101f" stroke-width="1.3"/>
<rect x="84.65" y="235.15" width="3.7" height="3.7" fill="#2bb1e8" stroke="#04101f" stroke-width="1.3"/>
<rect x="83.05" y="242.35" width="3.7" height="3.7" fill="#2bb1e8" stroke="#04101f" stroke-width="1.3"/>
<circle cx="96.90" cy="196.20" r="1.85" fill="#2bb1e8" stroke="#04101f" stroke-width="1.3"/>
<circle cx="102.00" cy="197.30" r="1.85" fill="#2bb1e8" stroke="#04101f" stroke-width="1.3"/>
<circle cx="101.50" cy="230.30" r="1.85" fill="#2bb1e8" stroke="#04101f" stroke-width="1.3"/>
<circle cx="96.90" cy="234.20" r="1.85" fill="#2bb1e8" stroke="#04101f" stroke-width="1.3"/>
<circle cx="99.20" cy="240.00" r="1.85" fill="#2bb1e8" stroke="#04101f" stroke-width="1.3"/>
<circle cx="101.50" cy="244.60" r="1.85" fill="#2bb1e8" stroke="#04101f" stroke-width="1.3"/>
<circle cx="99.20" cy="248.50" r="1.85" fill="#2bb1e8" stroke="#04101f" stroke-width="1.3"/>
<rect x="111.25" y="228.25" width="3.7" height="3.7" fill="#2bb1e8" stroke="#04101f" stroke-width="1.3"/>
<rect x="113.05" y="234.65" width="3.7" height="3.7" fill="#2bb1e8" stroke="#04101f" stroke-width="1.3"/>
<rect x="106.15" y="237.45" width="3.7" height="3.7" fill="#2bb1e8" stroke="#04101f" stroke-width="1.3"/>
<rect x="108.95" y="239.95" width="3.7" height="3.7" fill="#2bb1e8" stroke="#04101f" stroke-width="1.3"/>
<rect x="113.55" y="243.45" width="3.7" height="3.7" fill="#2bb1e8" stroke="#04101f" stroke-width="1.3"/>
<rect x="110.75" y="263.55" width="3.7" height="3.7" fill="#2bb1e8" stroke="#04101f" stroke-width="1.3"/>
<circle cx="126.50" cy="216.20" r="1.85" fill="#2bb1e8" stroke="#04101f" stroke-width="1.3"/>
<circle cx="124.60" cy="222.20" r="1.85" fill="#2bb1e8" stroke="#04101f" stroke-width="1.3"/>
<circle cx="128.80" cy="223.20" r="1.85" fill="#2bb1e8" stroke="#04101f" stroke-width="1.3"/>
<circle cx="126.90" cy="226.80" r="1.85" fill="#2bb1e8" stroke="#04101f" stroke-width="1.3"/>
<rect x="139.35" y="205.15" width="3.7" height="3.7" fill="#2bb1e8" stroke="#04101f" stroke-width="1.3"/>
<rect x="134.75" y="209.35" width="3.7" height="3.7" fill="#2bb1e8" stroke="#04101f" stroke-width="1.3"/>
<rect x="136.65" y="222.65" width="3.7" height="3.7" fill="#2bb1e8" stroke="#04101f" stroke-width="1.3"/>
<rect x="136.15" y="232.85" width="3.7" height="3.7" fill="#2bb1e8" stroke="#04101f" stroke-width="1.3"/>
<rect x="139.35" y="235.85" width="3.7" height="3.7" fill="#2bb1e8" stroke="#04101f" stroke-width="1.3"/>
<rect x="136.65" y="238.85" width="3.7" height="3.7" fill="#2bb1e8" stroke="#04101f" stroke-width="1.3"/>
<line x1="69.10" y1="188.50" x2="90.30" y2="188.50" stroke="#262626" stroke-width="1.25" stroke-linecap="butt"/>
<text x="80.50" y="187.25" font-size="10" text-anchor="middle" font-weight="normal" font-style="normal" fill="#111">*</text>
<line x1="96.00" y1="188.50" x2="118.60" y2="188.50" stroke="#262626" stroke-width="1.25" stroke-linecap="butt"/>
<text x="108.80" y="187.25" font-size="10" text-anchor="middle" font-weight="normal" font-style="normal" fill="#111">*</text>
<text x="51.30" y="285.60" font-size="8.0" text-anchor="middle" font-weight="normal" font-style="italic" fill="#0a0a0a">Fpn</text>
<text x="78.40" y="285.60" font-size="8.0" text-anchor="middle" font-weight="normal" font-style="italic" fill="#0a0a0a">Dmt1</text>
<text x="104.90" y="285.60" font-size="8.0" text-anchor="middle" font-weight="normal" font-style="italic" fill="#0a0a0a">Tfr1</text>
<text x="131.70" y="285.60" font-size="8.0" text-anchor="middle" font-weight="normal" font-style="italic" fill="#0a0a0a">Fth</text>
<text transform="translate(162.40 162.30) scale(1.0 1)" x="0" y="0" font-size="11.6" font-weight="bold" fill="#000">D</text>
<line x1="182.50" y1="177.90" x2="182.50" y2="273.10" stroke="#000" stroke-width="1.25" stroke-linecap="butt"/>
<line x1="178.60" y1="178.50" x2="182.50" y2="178.50" stroke="#000" stroke-width="1.25" stroke-linecap="butt"/>
<text x="177.90" y="181.31" font-size="7.8" text-anchor="end" font-weight="normal" font-style="normal" fill="#0a0a0a" textLength="4.77" lengthAdjust="spacingAndGlyphs">4</text>
<line x1="178.60" y1="202.50" x2="182.50" y2="202.50" stroke="#000" stroke-width="1.25" stroke-linecap="butt"/>
<text x="177.90" y="205.31" font-size="7.8" text-anchor="end" font-weight="normal" font-style="normal" fill="#0a0a0a" textLength="4.77" lengthAdjust="spacingAndGlyphs">3</text>
<line x1="178.60" y1="225.50" x2="182.50" y2="225.50" stroke="#000" stroke-width="1.25" stroke-linecap="butt"/>
<text x="177.90" y="228.31" font-size="7.8" text-anchor="end" font-weight="normal" font-style="normal" fill="#0a0a0a" textLength="4.77" lengthAdjust="spacingAndGlyphs">2</text>
<line x1="178.60" y1="249.50" x2="182.50" y2="249.50" stroke="#000" stroke-width="1.25" stroke-linecap="butt"/>
<text x="177.90" y="252.31" font-size="7.8" text-anchor="end" font-weight="normal" font-style="normal" fill="#0a0a0a" textLength="4.77" lengthAdjust="spacingAndGlyphs">1</text>
<line x1="178.60" y1="272.50" x2="182.50" y2="272.50" stroke="#000" stroke-width="1.25" stroke-linecap="butt"/>
<text x="177.90" y="275.31" font-size="7.8" text-anchor="end" font-weight="normal" font-style="normal" fill="#0a0a0a" textLength="4.77" lengthAdjust="spacingAndGlyphs">0</text>
<line x1="181.90" y1="272.50" x2="299.60" y2="272.50" stroke="#000" stroke-width="1.25" stroke-linecap="butt"/>
<line x1="199.50" y1="272.50" x2="199.50" y2="276.00" stroke="#000" stroke-width="1.25" stroke-linecap="butt"/>
<line x1="227.50" y1="272.50" x2="227.50" y2="276.00" stroke="#000" stroke-width="1.25" stroke-linecap="butt"/>
<line x1="254.50" y1="272.50" x2="254.50" y2="276.00" stroke="#000" stroke-width="1.25" stroke-linecap="butt"/>
<line x1="282.50" y1="272.50" x2="282.50" y2="276.00" stroke="#000" stroke-width="1.25" stroke-linecap="butt"/>
<text x="168.80" y="224.70" font-size="8.8" text-anchor="middle" font-weight="normal" font-style="normal" fill="#0a0a0a" transform="rotate(-90 168.80 224.70)" textLength="67.00" lengthAdjust="spacingAndGlyphs">Spleen mRNA (fold)</text>
<rect x="190.80" y="168.80" width="12.80" height="8.10" fill="#c62036"/>
<rect x="246.50" y="168.80" width="13.40" height="8.10" fill="#145487"/>
<text x="207.20" y="175.50" font-size="7.52" text-anchor="start" font-style="italic" fill="#0a0a0a" stroke="#0a0a0a" stroke-width="0.18" textLength="23.26" lengthAdjust="spacingAndGlyphs">Tet1<tspan font-size="4.51" dy="-2.86" fill="#0a0a0a" stroke="none">+/+</tspan></text>
<text x="263.80" y="175.50" font-size="7.52" text-anchor="start" font-style="italic" fill="#0a0a0a" stroke="#0a0a0a" stroke-width="0.18" textLength="23.26" lengthAdjust="spacingAndGlyphs">Tet1<tspan font-size="4.51" dy="-2.86" fill="#555" stroke="none">-/-</tspan></text>
<rect x="187.80" y="248.70" width="11.30" height="23.90" fill="#c62036"/>
<rect x="199.10" y="241.90" width="11.90" height="30.70" fill="#145487"/>
<line x1="193.50" y1="248.70" x2="193.50" y2="246.50" stroke="#000" stroke-width="1.1" stroke-linecap="butt"/>
<line x1="190.90" y1="246.50" x2="196.10" y2="246.50" stroke="#000" stroke-width="1.1" stroke-linecap="butt"/>
<line x1="205.50" y1="241.90" x2="205.50" y2="238.50" stroke="#000" stroke-width="1.1" stroke-linecap="butt"/>
<line x1="202.90" y1="238.50" x2="208.10" y2="238.50" stroke="#000" stroke-width="1.1" stroke-linecap="butt"/>
<rect x="216.10" y="248.70" width="11.30" height="23.90" fill="#c62036"/>
<rect x="227.40" y="241.90" width="12.00" height="30.70" fill="#145487"/>
<line x1="221.50" y1="248.70" x2="221.50" y2="246.50" stroke="#000" stroke-width="1.1" stroke-linecap="butt"/>
<line x1="218.90" y1="246.50" x2="224.10" y2="246.50" stroke="#000" stroke-width="1.1" stroke-linecap="butt"/>
<line x1="233.50" y1="241.90" x2="233.50" y2="238.50" stroke="#000" stroke-width="1.1" stroke-linecap="butt"/>
<line x1="230.90" y1="238.50" x2="236.10" y2="238.50" stroke="#000" stroke-width="1.1" stroke-linecap="butt"/>
<rect x="243.50" y="248.70" width="11.40" height="23.90" fill="#c62036"/>
<rect x="254.90" y="211.50" width="11.30" height="61.10" fill="#145487"/>
<line x1="249.50" y1="248.70" x2="249.50" y2="243.50" stroke="#000" stroke-width="1.1" stroke-linecap="butt"/>
<line x1="246.90" y1="243.50" x2="252.10" y2="243.50" stroke="#000" stroke-width="1.1" stroke-linecap="butt"/>
<line x1="260.50" y1="211.50" x2="260.50" y2="202.50" stroke="#000" stroke-width="1.1" stroke-linecap="butt"/>
<line x1="257.90" y1="202.50" x2="263.10" y2="202.50" stroke="#000" stroke-width="1.1" stroke-linecap="butt"/>
<rect x="270.60" y="248.70" width="11.70" height="23.90" fill="#c62036"/>
<rect x="282.30" y="253.80" width="11.30" height="18.80" fill="#145487"/>
<line x1="276.50" y1="248.70" x2="276.50" y2="245.50" stroke="#000" stroke-width="1.1" stroke-linecap="butt"/>
<line x1="273.90" y1="245.50" x2="279.10" y2="245.50" stroke="#000" stroke-width="1.1" stroke-linecap="butt"/>
<line x1="287.50" y1="253.80" x2="287.50" y2="252.50" stroke="#000" stroke-width="1.1" stroke-linecap="butt"/>
<line x1="284.90" y1="252.50" x2="290.10" y2="252.50" stroke="#000" stroke-width="1.1" stroke-linecap="butt"/>
<circle cx="192.70" cy="241.20" r="1.85" fill="#2bb1e8" stroke="#04101f" stroke-width="1.3"/>
<circle cx="190.40" cy="244.20" r="1.85" fill="#2bb1e8" stroke="#04101f" stroke-width="1.3"/>
<circle cx="195.00" cy="246.90" r="1.85" fill="#2bb1e8" stroke="#04101f" stroke-width="1.3"/>
<circle cx="191.10" cy="250.90" r="1.85" fill="#2bb1e8" stroke="#04101f" stroke-width="1.3"/>
<circle cx="192.70" cy="254.50" r="1.85" fill="#2bb1e8" stroke="#04101f" stroke-width="1.3"/>
<circle cx="195.00" cy="255.70" r="1.85" fill="#2bb1e8" stroke="#04101f" stroke-width="1.3"/>
<rect x="204.65" y="233.55" width="3.7" height="3.7" fill="#2bb1e8" stroke="#04101f" stroke-width="1.3"/>
<rect x="202.35" y="236.95" width="3.7" height="3.7" fill="#2bb1e8" stroke="#04101f" stroke-width="1.3"/>
<rect x="201.25" y="241.65" width="3.7" height="3.7" fill="#2bb1e8" stroke="#04101f" stroke-width="1.3"/>
<rect x="206.35" y="243.95" width="3.7" height="3.7" fill="#2bb1e8" stroke="#04101f" stroke-width="1.3"/>
<rect x="201.65" y="247.35" width="3.7" height="3.7" fill="#2bb1e8" stroke="#04101f" stroke-width="1.3"/>
<circle cx="223.20" cy="242.30" r="1.85" fill="#2bb1e8" stroke="#04101f" stroke-width="1.3"/>
<circle cx="219.20" cy="244.20" r="1.85" fill="#2bb1e8" stroke="#04101f" stroke-width="1.3"/>
<circle cx="222.70" cy="248.10" r="1.85" fill="#2bb1e8" stroke="#04101f" stroke-width="1.3"/>
<circle cx="220.40" cy="251.10" r="1.85" fill="#2bb1e8" stroke="#04101f" stroke-width="1.3"/>
<circle cx="221.50" cy="258.50" r="1.85" fill="#2bb1e8" stroke="#04101f" stroke-width="1.3"/>
<rect x="231.65" y="221.35" width="3.7" height="3.7" fill="#2bb1e8" stroke="#04101f" stroke-width="1.3"/>
<rect x="231.65" y="231.95" width="3.7" height="3.7" fill="#2bb1e8" stroke="#04101f" stroke-width="1.3"/>
<rect x="233.55" y="240.45" width="3.7" height="3.7" fill="#2bb1e8" stroke="#04101f" stroke-width="1.3"/>
<rect x="230.05" y="241.65" width="3.7" height="3.7" fill="#2bb1e8" stroke="#04101f" stroke-width="1.3"/>
<rect x="230.75" y="246.65" width="3.7" height="3.7" fill="#2bb1e8" stroke="#04101f" stroke-width="1.3"/>
<rect x="233.55" y="248.95" width="3.7" height="3.7" fill="#2bb1e8" stroke="#04101f" stroke-width="1.3"/>
<rect x="231.65" y="252.45" width="3.7" height="3.7" fill="#2bb1e8" stroke="#04101f" stroke-width="1.3"/>
<circle cx="245.80" cy="232.40" r="1.85" fill="#2bb1e8" stroke="#04101f" stroke-width="1.3"/>
<circle cx="249.70" cy="231.90" r="1.85" fill="#2bb1e8" stroke="#04101f" stroke-width="1.3"/>
<circle cx="248.10" cy="252.70" r="1.85" fill="#2bb1e8" stroke="#04101f" stroke-width="1.3"/>
<circle cx="246.90" cy="255.70" r="1.85" fill="#2bb1e8" stroke="#04101f" stroke-width="1.3"/>
<circle cx="249.20" cy="259.20" r="1.85" fill="#2bb1e8" stroke="#04101f" stroke-width="1.3"/>
<circle cx="247.40" cy="261.20" r="1.85" fill="#2bb1e8" stroke="#04101f" stroke-width="1.3"/>
<rect x="260.75" y="186.95" width="3.7" height="3.7" fill="#2bb1e8" stroke="#04101f" stroke-width="1.3"/>
<rect x="256.15" y="191.55" width="3.7" height="3.7" fill="#2bb1e8" stroke="#04101f" stroke-width="1.3"/>
<rect x="258.45" y="201.95" width="3.7" height="3.7" fill="#2bb1e8" stroke="#04101f" stroke-width="1.3"/>
<rect x="258.45" y="208.15" width="3.7" height="3.7" fill="#2bb1e8" stroke="#04101f" stroke-width="1.3"/>
<rect x="258.45" y="228.25" width="3.7" height="3.7" fill="#2bb1e8" stroke="#04101f" stroke-width="1.3"/>
<rect x="258.45" y="238.15" width="3.7" height="3.7" fill="#2bb1e8" stroke="#04101f" stroke-width="1.3"/>
<circle cx="276.90" cy="238.40" r="1.85" fill="#2bb1e8" stroke="#04101f" stroke-width="1.3"/>
<circle cx="276.90" cy="246.20" r="1.85" fill="#2bb1e8" stroke="#04101f" stroke-width="1.3"/>
<circle cx="274.60" cy="247.40" r="1.85" fill="#2bb1e8" stroke="#04101f" stroke-width="1.3"/>
<circle cx="276.50" cy="250.80" r="1.85" fill="#2bb1e8" stroke="#04101f" stroke-width="1.3"/>
<circle cx="278.80" cy="253.40" r="1.85" fill="#2bb1e8" stroke="#04101f" stroke-width="1.3"/>
<circle cx="274.20" cy="258.50" r="1.85" fill="#2bb1e8" stroke="#04101f" stroke-width="1.3"/>
<rect x="283.85" y="251.55" width="3.7" height="3.7" fill="#2bb1e8" stroke="#04101f" stroke-width="1.3"/>
<rect x="288.95" y="253.65" width="3.7" height="3.7" fill="#2bb1e8" stroke="#04101f" stroke-width="1.3"/>
<rect x="284.75" y="255.95" width="3.7" height="3.7" fill="#2bb1e8" stroke="#04101f" stroke-width="1.3"/>
<rect x="287.75" y="257.35" width="3.7" height="3.7" fill="#2bb1e8" stroke="#04101f" stroke-width="1.3"/>
<rect x="286.15" y="260.55" width="3.7" height="3.7" fill="#2bb1e8" stroke="#04101f" stroke-width="1.3"/>
<line x1="244.40" y1="185.50" x2="265.90" y2="185.50" stroke="#262626" stroke-width="1.25" stroke-linecap="butt"/>
<text x="255.40" y="184.45" font-size="10" text-anchor="middle" font-weight="normal" font-style="normal" fill="#111">*</text>
<line x1="271.20" y1="229.50" x2="293.60" y2="229.50" stroke="#262626" stroke-width="1.25" stroke-linecap="butt"/>
<text x="283.20" y="228.35" font-size="10" text-anchor="middle" font-weight="normal" font-style="normal" fill="#111">*</text>
<text x="199.10" y="285.80" font-size="8.0" text-anchor="middle" font-weight="normal" font-style="italic" fill="#0a0a0a">Fpn</text>
<text x="227.40" y="285.80" font-size="8.0" text-anchor="middle" font-weight="normal" font-style="italic" fill="#0a0a0a">Dmt1</text>
<text x="254.90" y="285.80" font-size="8.0" text-anchor="middle" font-weight="normal" font-style="italic" fill="#0a0a0a">Tfr1</text>
<text x="282.30" y="285.80" font-size="8.0" text-anchor="middle" font-weight="normal" font-style="italic" fill="#0a0a0a">Fth</text>
<text transform="translate(313.00 162.30) scale(0.88 1)" x="0" y="0" font-size="11.6" font-weight="bold" fill="#000">E</text>
<text x="384.70" y="161.40" font-size="7.75" text-anchor="middle" font-style="italic" fill="#0a0a0a" stroke="#0a0a0a" stroke-width="0.18" textLength="23.96" lengthAdjust="spacingAndGlyphs">Tet1<tspan font-size="4.65" dy="-2.95" fill="#0a0a0a" stroke="none">+/+</tspan></text>
<text x="448.10" y="161.40" font-size="7.75" text-anchor="middle" font-style="italic" fill="#0a0a0a" stroke="#0a0a0a" stroke-width="0.18" textLength="23.96" lengthAdjust="spacingAndGlyphs">Tet1<tspan font-size="4.65" dy="-2.95" fill="#555" stroke="none">-/-</tspan></text>
<line x1="351.40" y1="164.50" x2="410.00" y2="164.50" stroke="#1a1a1a" stroke-width="1.15" stroke-linecap="butt"/>
<line x1="412.70" y1="164.50" x2="470.90" y2="164.50" stroke="#1a1a1a" stroke-width="1.15" stroke-linecap="butt"/>
<text x="478.60" y="164.60" font-size="8.6" text-anchor="start" font-weight="normal" font-style="normal" fill="#0a0a0a">kD</text>
<g><clipPath id="cp351_166"><rect x="351.2" y="166.8" width="120.0" height="14.799999999999983"/></clipPath>
<rect x="351.20" y="166.80" width="120.00" height="14.80" fill="#a4a4a4"/>
<g clip-path="url(#cp351_166)" filter="url(#b1)">
<rect x="353.70" y="173.10" width="15.60" height="3.40" rx="1.61" fill="#3a3a3a" opacity="0.75"/>
<rect x="374.00" y="173.60" width="14.00" height="2.80" rx="1.33" fill="#5a5a5a" opacity="0.5"/>
<rect x="392.70" y="172.90" width="15.60" height="3.40" rx="1.61" fill="#3a3a3a" opacity="0.75"/>
<rect x="412.00" y="171.20" width="18.00" height="5.20" rx="2.47" fill="#161616" opacity="0.95"/>
<rect x="431.50" y="171.20" width="18.00" height="5.20" rx="2.47" fill="#161616" opacity="0.95"/>
<rect x="450.80" y="171.00" width="18.40" height="6.00" rx="2.85" fill="#161616" opacity="0.95"/>
</g>
<rect x="351.2" y="166.8" width="120.0" height="14.799999999999983" fill="none" stroke="#1c1c1c" stroke-width="1.1"/></g>
<g><clipPath id="cp351_183"><rect x="351.2" y="183.5" width="120.0" height="14.5"/></clipPath>
<rect x="351.20" y="183.50" width="120.00" height="14.50" fill="#8c8c8c"/>
<g clip-path="url(#cp351_183)" filter="url(#b1)">
<rect x="351.70" y="186.20" width="19.60" height="8.80" rx="4.18" fill="#0a0a0a" opacity="1"/>
<rect x="371.20" y="186.00" width="19.60" height="9.60" rx="4.56" fill="#0a0a0a" opacity="1"/>
<rect x="391.50" y="186.60" width="18.00" height="8.00" rx="3.80" fill="#0a0a0a" opacity="1"/>
<rect x="412.20" y="187.40" width="17.60" height="6.00" rx="2.85" fill="#1a1a1a" opacity="0.9"/>
<rect x="433.00" y="188.60" width="15.00" height="4.40" rx="2.09" fill="#3a3a3a" opacity="0.6"/>
<rect x="451.40" y="188.10" width="17.20" height="5.40" rx="2.56" fill="#222" opacity="0.8"/>
</g>
<rect x="351.2" y="183.5" width="120.0" height="14.5" fill="none" stroke="#1c1c1c" stroke-width="1.1"/></g>
<g><clipPath id="cp351_199"><rect x="351.2" y="199.6" width="120.0" height="13.5"/></clipPath>
<rect x="351.20" y="199.60" width="120.00" height="13.50" fill="#8d8d8d"/>
<g clip-path="url(#cp351_199)" filter="url(#b1)">
<rect x="351.90" y="203.50" width="19.20" height="5.80" rx="2.75" fill="#0a0a0a" opacity="1"/>
<rect x="371.60" y="204.20" width="18.80" height="5.20" rx="2.47" fill="#0e0e0e" opacity="1"/>
<rect x="390.90" y="203.50" width="19.20" height="5.80" rx="2.75" fill="#0a0a0a" opacity="1"/>
<rect x="411.60" y="202.70" width="18.80" height="5.80" rx="2.75" fill="#0a0a0a" opacity="1"/>
<rect x="431.10" y="203.10" width="18.80" height="5.40" rx="2.56" fill="#0a0a0a" opacity="1"/>
<rect x="450.00" y="203.80" width="20.00" height="7.20" rx="3.42" fill="#060606" opacity="1"/>
</g>
<rect x="351.2" y="199.6" width="120.0" height="13.5" fill="none" stroke="#1c1c1c" stroke-width="1.1"/></g>
<text x="344.80" y="178.80" font-size="7.6" text-anchor="end" font-weight="normal" font-style="normal" fill="#0a0a0a">FPN</text>
<text x="344.80" y="193.80" font-size="7.6" text-anchor="end" font-weight="normal" font-style="normal" fill="#0a0a0a">FTH</text>
<text x="344.80" y="208.20" font-size="7.6" text-anchor="end" font-weight="normal" font-style="normal" fill="#0a0a0a">GAPDH</text>
<line x1="471.20" y1="172.50" x2="476.90" y2="172.50" stroke="#000" stroke-width="1.1" stroke-linecap="butt"/>
<text x="478.00" y="174.90" font-size="8.2" text-anchor="start" font-weight="normal" font-style="normal" fill="#0a0a0a">70</text>
<line x1="471.20" y1="180.50" x2="476.90" y2="180.50" stroke="#000" stroke-width="1.1" stroke-linecap="butt"/>
<text x="478.00" y="182.90" font-size="8.2" text-anchor="start" font-weight="normal" font-style="normal" fill="#0a0a0a">55</text>
<line x1="471.20" y1="191.50" x2="476.90" y2="191.50" stroke="#000" stroke-width="1.1" stroke-linecap="butt"/>
<text x="478.00" y="194.30" font-size="8.2" text-anchor="start" font-weight="normal" font-style="normal" fill="#0a0a0a">20</text>
<line x1="471.20" y1="209.50" x2="476.90" y2="209.50" stroke="#000" stroke-width="1.1" stroke-linecap="butt"/>
<text x="478.00" y="212.00" font-size="8.2" text-anchor="start" font-weight="normal" font-style="normal" fill="#0a0a0a">35</text>
<line x1="349.50" y1="228.90" x2="349.50" y2="282.10" stroke="#000" stroke-width="1.25" stroke-linecap="butt"/>
<line x1="346.60" y1="229.50" x2="349.50" y2="229.50" stroke="#000" stroke-width="1.25" stroke-linecap="butt"/>
<text x="345.90" y="232.31" font-size="7.8" text-anchor="end" font-weight="normal" font-style="normal" fill="#0a0a0a" textLength="4.77" lengthAdjust="spacingAndGlyphs">3</text>
<line x1="346.60" y1="246.50" x2="349.50" y2="246.50" stroke="#000" stroke-width="1.25" stroke-linecap="butt"/>
<text x="345.90" y="249.31" font-size="7.8" text-anchor="end" font-weight="normal" font-style="normal" fill="#0a0a0a" textLength="4.77" lengthAdjust="spacingAndGlyphs">2</text>
<line x1="346.60" y1="264.50" x2="349.50" y2="264.50" stroke="#000" stroke-width="1.25" stroke-linecap="butt"/>
<text x="345.90" y="267.31" font-size="7.8" text-anchor="end" font-weight="normal" font-style="normal" fill="#0a0a0a" textLength="4.77" lengthAdjust="spacingAndGlyphs">1</text>
<line x1="346.60" y1="281.50" x2="349.50" y2="281.50" stroke="#000" stroke-width="1.25" stroke-linecap="butt"/>
<text x="345.90" y="284.31" font-size="7.8" text-anchor="end" font-weight="normal" font-style="normal" fill="#0a0a0a" textLength="4.77" lengthAdjust="spacingAndGlyphs">0</text>
<line x1="348.90" y1="281.50" x2="387.70" y2="281.50" stroke="#000" stroke-width="1.25" stroke-linecap="butt"/>
<line x1="358.50" y1="281.50" x2="358.50" y2="285.00" stroke="#000" stroke-width="1.25" stroke-linecap="butt"/>
<line x1="378.50" y1="281.50" x2="378.50" y2="285.00" stroke="#000" stroke-width="1.25" stroke-linecap="butt"/>
<text x="324.60" y="253.00" font-size="9.6" text-anchor="middle" font-weight="normal" font-style="normal" fill="#0a0a0a" transform="rotate(-90 324.60 253.00)" textLength="55.00" lengthAdjust="spacingAndGlyphs">FPN Protein level</text>
<text x="336.60" y="253.00" font-size="9.6" text-anchor="middle" font-weight="normal" font-style="normal" fill="#0a0a0a" transform="rotate(-90 336.60 253.00)" textLength="64.00" lengthAdjust="spacingAndGlyphs">(relative to GAPDH)</text>
<rect x="352.40" y="264.50" width="12.50" height="17.10" fill="#c62036"/>
<rect x="372.00" y="246.30" width="12.70" height="35.30" fill="#145487"/>
<line x1="358.50" y1="264.50" x2="358.50" y2="262.50" stroke="#000" stroke-width="1.1" stroke-linecap="butt"/>
<line x1="355.90" y1="262.50" x2="361.10" y2="262.50" stroke="#000" stroke-width="1.1" stroke-linecap="butt"/>
<line x1="378.50" y1="246.30" x2="378.50" y2="242.50" stroke="#000" stroke-width="1.1" stroke-linecap="butt"/>
<line x1="375.90" y1="242.50" x2="381.10" y2="242.50" stroke="#000" stroke-width="1.1" stroke-linecap="butt"/>
<circle cx="358.90" cy="255.40" r="1.85" fill="#2bb1e8" stroke="#04101f" stroke-width="1.3"/>
<circle cx="354.00" cy="263.50" r="1.85" fill="#2bb1e8" stroke="#04101f" stroke-width="1.3"/>
<circle cx="362.10" cy="263.10" r="1.85" fill="#2bb1e8" stroke="#04101f" stroke-width="1.3"/>
<circle cx="356.80" cy="265.10" r="1.85" fill="#2bb1e8" stroke="#04101f" stroke-width="1.3"/>
<circle cx="359.50" cy="266.50" r="1.85" fill="#2bb1e8" stroke="#04101f" stroke-width="1.3"/>
<circle cx="363.50" cy="266.10" r="1.85" fill="#2bb1e8" stroke="#04101f" stroke-width="1.3"/>
<circle cx="358.90" cy="270.50" r="1.85" fill="#2bb1e8" stroke="#04101f" stroke-width="1.3"/>
<rect x="373.75" y="232.75" width="3.7" height="3.7" fill="#2bb1e8" stroke="#04101f" stroke-width="1.3"/>
<rect x="378.85" y="232.75" width="3.7" height="3.7" fill="#2bb1e8" stroke="#04101f" stroke-width="1.3"/>
<rect x="372.75" y="245.45" width="3.7" height="3.7" fill="#2bb1e8" stroke="#04101f" stroke-width="1.3"/>
<rect x="378.85" y="245.45" width="3.7" height="3.7" fill="#2bb1e8" stroke="#04101f" stroke-width="1.3"/>
<rect x="372.35" y="250.95" width="3.7" height="3.7" fill="#2bb1e8" stroke="#04101f" stroke-width="1.3"/>
<rect x="376.85" y="250.95" width="3.7" height="3.7" fill="#2bb1e8" stroke="#04101f" stroke-width="1.3"/>
<rect x="380.45" y="250.95" width="3.7" height="3.7" fill="#2bb1e8" stroke="#04101f" stroke-width="1.3"/>
<line x1="358.50" y1="229.50" x2="379.70" y2="229.50" stroke="#262626" stroke-width="1.25" stroke-linecap="butt"/>
<text x="370.20" y="227.95" font-size="10" text-anchor="middle" font-weight="normal" font-style="normal" fill="#111">*</text>
<line x1="432.50" y1="228.90" x2="432.50" y2="283.10" stroke="#000" stroke-width="1.25" stroke-linecap="butt"/>
<line x1="429.60" y1="229.50" x2="432.50" y2="229.50" stroke="#000" stroke-width="1.25" stroke-linecap="butt"/>
<text x="428.90" y="232.31" font-size="7.8" text-anchor="end" font-weight="normal" font-style="normal" fill="#0a0a0a" textLength="11.93" lengthAdjust="spacingAndGlyphs">1.5</text>
<line x1="429.60" y1="247.50" x2="432.50" y2="247.50" stroke="#000" stroke-width="1.25" stroke-linecap="butt"/>
<text x="428.90" y="250.31" font-size="7.8" text-anchor="end" font-weight="normal" font-style="normal" fill="#0a0a0a" textLength="11.93" lengthAdjust="spacingAndGlyphs">1.0</text>
<line x1="429.60" y1="264.50" x2="432.50" y2="264.50" stroke="#000" stroke-width="1.25" stroke-linecap="butt"/>
<text x="428.90" y="267.31" font-size="7.8" text-anchor="end" font-weight="normal" font-style="normal" fill="#0a0a0a" textLength="11.93" lengthAdjust="spacingAndGlyphs">0.5</text>
<line x1="429.60" y1="282.50" x2="432.50" y2="282.50" stroke="#000" stroke-width="1.25" stroke-linecap="butt"/>
<text x="428.90" y="285.31" font-size="7.8" text-anchor="end" font-weight="normal" font-style="normal" fill="#0a0a0a" textLength="11.93" lengthAdjust="spacingAndGlyphs">0.0</text>
<line x1="431.90" y1="282.50" x2="471.30" y2="282.50" stroke="#000" stroke-width="1.25" stroke-linecap="butt"/>
<line x1="440.50" y1="282.50" x2="440.50" y2="286.00" stroke="#000" stroke-width="1.25" stroke-linecap="butt"/>
<line x1="460.50" y1="282.50" x2="460.50" y2="286.00" stroke="#000" stroke-width="1.25" stroke-linecap="butt"/>
<text x="402.40" y="253.00" font-size="9.6" text-anchor="middle" font-weight="normal" font-style="normal" fill="#0a0a0a" transform="rotate(-90 402.40 253.00)" textLength="55.00" lengthAdjust="spacingAndGlyphs">FTH Protein level</text>
<text x="414.00" y="253.00" font-size="9.6" text-anchor="middle" font-weight="normal" font-style="normal" fill="#0a0a0a" transform="rotate(-90 414.00 253.00)" textLength="64.00" lengthAdjust="spacingAndGlyphs">(relative to GAPDH)</text>
<rect x="436.00" y="246.60" width="12.10" height="35.40" fill="#c62036"/>
<rect x="455.40" y="254.80" width="12.60" height="27.20" fill="#145487"/>
<line x1="442.50" y1="246.60" x2="442.50" y2="243.50" stroke="#000" stroke-width="1.1" stroke-linecap="butt"/>
<line x1="439.90" y1="243.50" x2="445.10" y2="243.50" stroke="#000" stroke-width="1.1" stroke-linecap="butt"/>
<line x1="461.50" y1="254.80" x2="461.50" y2="252.50" stroke="#000" stroke-width="1.1" stroke-linecap="butt"/>
<line x1="458.90" y1="252.50" x2="464.10" y2="252.50" stroke="#000" stroke-width="1.1" stroke-linecap="butt"/>
<circle cx="441.50" cy="230.90" r="1.85" fill="#2bb1e8" stroke="#04101f" stroke-width="1.3"/>
<circle cx="442.20" cy="240.00" r="1.85" fill="#2bb1e8" stroke="#04101f" stroke-width="1.3"/>
<circle cx="439.30" cy="246.60" r="1.85" fill="#2bb1e8" stroke="#04101f" stroke-width="1.3"/>
<circle cx="444.80" cy="248.20" r="1.85" fill="#2bb1e8" stroke="#04101f" stroke-width="1.3"/>
<circle cx="437.10" cy="251.50" r="1.85" fill="#2bb1e8" stroke="#04101f" stroke-width="1.3"/>
<circle cx="442.20" cy="251.90" r="1.85" fill="#2bb1e8" stroke="#04101f" stroke-width="1.3"/>
<circle cx="445.90" cy="254.80" r="1.85" fill="#2bb1e8" stroke="#04101f" stroke-width="1.3"/>
<rect x="460.25" y="248.55" width="3.7" height="3.7" fill="#2bb1e8" stroke="#04101f" stroke-width="1.3"/>
<rect x="455.15" y="252.55" width="3.7" height="3.7" fill="#2bb1e8" stroke="#04101f" stroke-width="1.3"/>
<rect x="463.95" y="254.05" width="3.7" height="3.7" fill="#2bb1e8" stroke="#04101f" stroke-width="1.3"/>
<rect x="459.55" y="255.65" width="3.7" height="3.7" fill="#2bb1e8" stroke="#04101f" stroke-width="1.3"/>
<rect x="459.55" y="264.05" width="3.7" height="3.7" fill="#2bb1e8" stroke="#04101f" stroke-width="1.3"/>
<line x1="440.40" y1="227.50" x2="461.40" y2="227.50" stroke="#262626" stroke-width="1.25" stroke-linecap="butt"/>
<text x="451.90" y="226.05" font-size="10" text-anchor="middle" font-weight="normal" font-style="normal" fill="#111">*</text>
<rect x="469.80" y="218.80" width="12.60" height="8.40" fill="#c62036"/>
<rect x="469.80" y="232.70" width="12.60" height="8.40" fill="#145487"/>
<text x="485.70" y="225.60" font-size="7.07" text-anchor="start" font-style="italic" fill="#0a0a0a" stroke="#0a0a0a" stroke-width="0.18" textLength="21.85" lengthAdjust="spacingAndGlyphs">Tet1<tspan font-size="4.24" dy="-2.69" fill="#0a0a0a" stroke="none">+/+</tspan></text>
<text x="485.70" y="239.60" font-size="7.07" text-anchor="start" font-style="italic" fill="#0a0a0a" stroke="#0a0a0a" stroke-width="0.18" textLength="21.85" lengthAdjust="spacingAndGlyphs">Tet1<tspan font-size="4.24" dy="-2.69" fill="#555" stroke="none">-/-</tspan></text>
<text transform="translate(7.80 312.40) scale(0.9 1)" x="0" y="0" font-size="11.6" font-weight="bold" fill="#000">F</text>
<text x="100.80" y="310.40" font-size="9.5" text-anchor="middle" font-weight="normal" font-style="normal" fill="#0a0a0a">Perls’ Blue Staining</text>
<line x1="21.20" y1="314.50" x2="180.80" y2="314.50" stroke="#1a1a1a" stroke-width="1.15" stroke-linecap="butt"/>
<text x="69.20" y="324.80" font-size="7.52" text-anchor="middle" font-style="italic" fill="#0a0a0a" stroke="#0a0a0a" stroke-width="0.18" textLength="23.26" lengthAdjust="spacingAndGlyphs">Tet1<tspan font-size="4.51" dy="-2.86" fill="#0a0a0a" stroke="none">+/+</tspan></text>
<text x="146.40" y="324.80" font-size="7.52" text-anchor="middle" font-style="italic" fill="#0a0a0a" stroke="#0a0a0a" stroke-width="0.18" textLength="23.26" lengthAdjust="spacingAndGlyphs">Tet1<tspan font-size="4.51" dy="-2.86" fill="#555" stroke="none">-/-</tspan></text>
<text x="16.00" y="362.00" font-size="7.0" text-anchor="middle" font-weight="normal" font-style="normal" fill="#0a0a0a" transform="rotate(-90 16.00 362.00)">3-Days</text>
<text x="16.00" y="427.70" font-size="7.0" text-anchor="middle" font-weight="normal" font-style="normal" fill="#0a0a0a" transform="rotate(-90 16.00 427.70)">7-Days</text>
<g><clipPath id="h20_331"><rect x="20.4" y="331.5" width="79.30000000000001" height="61.10000000000002"/></clipPath>
<g clip-path="url(#h20_331)">
<rect x="20.40" y="331.50" width="79.30" height="61.10" fill="#a65c78"/>
<rect x="20.4" y="331.5" width="79.30000000000001" height="61.10000000000002" filter="url(#nzP)" opacity="1.0"/>
<g filter="url(#b3)">
<ellipse cx="79.1" cy="348.0" rx="19" ry="14" fill="#a51a4b" opacity="0.95" transform="rotate(0 79.1 348.0)"/>
<ellipse cx="46.6" cy="359.0" rx="6.5" ry="8" fill="#a51a4b" opacity="0.9" transform="rotate(0 46.6 359.0)"/>
<ellipse cx="32.3" cy="333.3" rx="16" ry="4" fill="#a51a4b" opacity="0.85" transform="rotate(0 32.3 333.3)"/>
<ellipse cx="82.3" cy="389.5" rx="20" ry="6" fill="#a51a4b" opacity="0.9" transform="rotate(0 82.3 389.5)"/>
<ellipse cx="26.7" cy="390.8" rx="9" ry="4" fill="#a51a4b" opacity="0.8" transform="rotate(0 26.7 390.8)"/>
<ellipse cx="98.1" cy="377.3" rx="4" ry="6" fill="#a51a4b" opacity="0.7" transform="rotate(0 98.1 377.3)"/>
</g>
<rect x="20.4" y="331.5" width="79.30000000000001" height="61.10000000000002" filter="url(#nzG)" opacity="0.5"/>
<rect x="20.4" y="331.5" width="79.30000000000001" height="61.10000000000002" filter="url(#nzL)" opacity="0.35"/>
<circle cx="47.9" cy="344.5" r="0.85" fill="#1c427a"/>
<circle cx="41.6" cy="344.0" r="0.67" fill="#1c427a"/>
<circle cx="36.9" cy="339.3" r="0.47" fill="#1c427a"/>
<circle cx="50.7" cy="342.5" r="0.66" fill="#1c427a"/>
<circle cx="41.8" cy="341.8" r="0.67" fill="#1c427a"/>
<circle cx="41.2" cy="340.6" r="0.95" fill="#1c427a"/>
<circle cx="42.8" cy="341.6" r="0.43" fill="#1c427a"/>
<circle cx="30.9" cy="340.8" r="0.63" fill="#1c427a"/>
<circle cx="42.8" cy="343.8" r="0.44" fill="#1c427a"/>
<circle cx="42.7" cy="343.8" r="0.70" fill="#1c427a"/>
<circle cx="42.2" cy="343.2" r="0.54" fill="#1c427a"/>
<circle cx="38.0" cy="342.3" r="0.43" fill="#1c427a"/>
<circle cx="45.0" cy="339.9" r="0.78" fill="#1c427a"/>
<circle cx="47.6" cy="347.2" r="0.90" fill="#1c427a"/>
<circle cx="57.4" cy="357.3" r="0.87" fill="#1c427a"/>
<circle cx="53.5" cy="339.6" r="0.69" fill="#1c427a"/>
<circle cx="57.6" cy="345.5" r="0.62" fill="#1c427a"/>
<circle cx="49.7" cy="346.9" r="0.94" fill="#1c427a"/>
<circle cx="51.1" cy="353.2" r="0.46" fill="#1c427a"/>
<circle cx="55.6" cy="364.4" r="0.69" fill="#1c427a"/>
<circle cx="57.2" cy="360.3" r="0.86" fill="#1c427a"/>
<circle cx="53.9" cy="348.2" r="0.70" fill="#1c427a"/>
<circle cx="49.8" cy="352.9" r="0.75" fill="#1c427a"/>
<circle cx="52.4" cy="357.9" r="0.46" fill="#1c427a"/>
<circle cx="60.1" cy="356.1" r="1.03" fill="#1c427a"/>
<circle cx="52.6" cy="350.1" r="0.54" fill="#1c427a"/>
<circle cx="46.3" cy="353.3" r="0.90" fill="#1c427a"/>
<circle cx="49.2" cy="350.5" r="0.58" fill="#1c427a"/>
<circle cx="47.5" cy="352.2" r="0.79" fill="#1c427a"/>
<circle cx="52.9" cy="354.7" r="0.77" fill="#1c427a"/>
<circle cx="55.6" cy="353.3" r="0.91" fill="#1c427a"/>
<circle cx="58.1" cy="342.0" r="0.88" fill="#1c427a"/>
<circle cx="56.7" cy="346.6" r="0.78" fill="#1c427a"/>
<circle cx="54.3" cy="354.4" r="0.96" fill="#1c427a"/>
<circle cx="53.4" cy="351.8" r="0.74" fill="#1c427a"/>
<circle cx="52.3" cy="354.0" r="0.65" fill="#1c427a"/>
<circle cx="51.0" cy="351.5" r="0.81" fill="#1c427a"/>
<circle cx="54.6" cy="353.9" r="0.58" fill="#1c427a"/>
<circle cx="57.1" cy="360.8" r="0.95" fill="#1c427a"/>
<circle cx="57.0" cy="343.1" r="0.93" fill="#1c427a"/>
<circle cx="51.7" cy="377.7" r="0.84" fill="#1c427a"/>
<circle cx="53.3" cy="373.3" r="0.45" fill="#1c427a"/>
<circle cx="52.3" cy="371.2" r="0.51" fill="#1c427a"/>
<circle cx="47.5" cy="371.5" r="0.49" fill="#1c427a"/>
<circle cx="56.8" cy="375.6" r="0.54" fill="#1c427a"/>
<circle cx="50.5" cy="376.9" r="0.71" fill="#1c427a"/>
<circle cx="48.6" cy="375.5" r="0.46" fill="#1c427a"/>
<circle cx="46.5" cy="374.7" r="0.56" fill="#1c427a"/>
<circle cx="64.0" cy="376.4" r="0.75" fill="#1c427a"/>
<circle cx="54.6" cy="376.3" r="0.93" fill="#1c427a"/>
<circle cx="53.5" cy="373.1" r="0.53" fill="#1c427a"/>
<circle cx="51.3" cy="371.6" r="0.86" fill="#1c427a"/>
<circle cx="48.2" cy="370.3" r="0.57" fill="#1c427a"/>
<circle cx="64.7" cy="372.4" r="0.75" fill="#1c427a"/>
<circle cx="53.8" cy="376.5" r="0.68" fill="#1c427a"/>
<circle cx="46.5" cy="372.1" r="0.82" fill="#1c427a"/>
<circle cx="57.7" cy="373.8" r="1.02" fill="#1c427a"/>
<circle cx="56.5" cy="371.6" r="0.95" fill="#1c427a"/>
<circle cx="45.9" cy="378.4" r="0.88" fill="#1c427a"/>
<circle cx="47.4" cy="374.0" r="0.45" fill="#1c427a"/>
<circle cx="53.6" cy="372.6" r="0.93" fill="#1c427a"/>
<circle cx="61.1" cy="372.3" r="0.55" fill="#1c427a"/>
<circle cx="65.1" cy="368.2" r="0.86" fill="#1c427a"/>
<circle cx="45.2" cy="372.9" r="0.65" fill="#1c427a"/>
<circle cx="55.1" cy="376.6" r="0.70" fill="#1c427a"/>
<circle cx="53.3" cy="374.1" r="0.84" fill="#1c427a"/>
<circle cx="85.9" cy="370.2" r="0.64" fill="#1c427a"/>
<circle cx="96.0" cy="365.3" r="0.45" fill="#1c427a"/>
<circle cx="89.3" cy="369.7" r="1.03" fill="#1c427a"/>
<circle cx="88.8" cy="366.5" r="0.57" fill="#1c427a"/>
<circle cx="83.0" cy="365.1" r="1.00" fill="#1c427a"/>
<circle cx="81.4" cy="371.3" r="0.85" fill="#1c427a"/>
<circle cx="71.7" cy="368.7" r="0.58" fill="#1c427a"/>
<circle cx="87.4" cy="367.4" r="0.54" fill="#1c427a"/>
<circle cx="91.1" cy="367.5" r="0.89" fill="#1c427a"/>
<circle cx="79.2" cy="366.1" r="0.66" fill="#1c427a"/>
<circle cx="85.3" cy="369.4" r="0.96" fill="#1c427a"/>
<circle cx="76.9" cy="365.4" r="0.97" fill="#1c427a"/>
<circle cx="92.4" cy="369.9" r="0.51" fill="#1c427a"/>
<circle cx="89.9" cy="368.3" r="0.96" fill="#1c427a"/>
<circle cx="90.3" cy="364.8" r="0.65" fill="#1c427a"/>
<circle cx="80.5" cy="366.0" r="0.67" fill="#1c427a"/>
<circle cx="84.2" cy="367.6" r="0.49" fill="#1c427a"/>
<circle cx="86.6" cy="372.0" r="0.78" fill="#1c427a"/>
<circle cx="67.1" cy="384.7" r="0.54" fill="#1c427a"/>
<circle cx="65.4" cy="383.0" r="0.40" fill="#1c427a"/>
<circle cx="63.3" cy="384.8" r="0.46" fill="#1c427a"/>
<circle cx="64.7" cy="385.0" r="0.52" fill="#1c427a"/>
<circle cx="67.3" cy="385.2" r="0.46" fill="#1c427a"/>
<circle cx="65.2" cy="386.1" r="0.79" fill="#1c427a"/>
<circle cx="69.6" cy="386.9" r="0.60" fill="#1c427a"/>
<circle cx="38.6" cy="351.5" r="0.48" fill="#1c427a"/>
<circle cx="28.2" cy="368.5" r="0.39" fill="#1c427a"/>
<circle cx="27.5" cy="353.4" r="0.35" fill="#1c427a"/>
<circle cx="32.3" cy="354.9" r="0.61" fill="#1c427a"/>
<circle cx="24.4" cy="358.9" r="0.37" fill="#1c427a"/>
<circle cx="39.1" cy="340.9" r="0.78" fill="#1c427a"/>
<circle cx="30.9" cy="360.9" r="0.62" fill="#1c427a"/>
<circle cx="34.2" cy="354.2" r="0.66" fill="#1c427a"/>
<circle cx="37.2" cy="355.0" r="0.68" fill="#1c427a"/>
<circle cx="37.4" cy="363.3" r="0.44" fill="#1c427a"/>
<circle cx="37.0" cy="376.2" r="0.63" fill="#1c427a"/>
<circle cx="36.5" cy="351.8" r="0.89" fill="#1c427a"/>
<circle cx="36.8" cy="362.3" r="0.57" fill="#1c427a"/>
<circle cx="36.6" cy="369.8" r="0.87" fill="#1c427a"/>
<circle cx="37.4" cy="364.2" r="0.68" fill="#1c427a"/>
<circle cx="36.0" cy="355.1" r="0.53" fill="#1c427a"/>
<circle cx="72.5" cy="371.4" r="0.43" fill="#1c427a"/>
<circle cx="68.1" cy="371.0" r="0.44" fill="#1c427a"/>
<circle cx="67.4" cy="370.1" r="0.81" fill="#1c427a"/>
<circle cx="61.7" cy="371.4" r="0.48" fill="#1c427a"/>
<circle cx="62.5" cy="371.2" r="0.44" fill="#1c427a"/>
<circle cx="71.9" cy="370.9" r="0.81" fill="#1c427a"/>
<circle cx="76.9" cy="370.9" r="0.56" fill="#1c427a"/>
<circle cx="73.3" cy="372.6" r="0.88" fill="#1c427a"/>
</g>
<rect x="20.4" y="331.5" width="79.30000000000001" height="61.10000000000002" fill="none" stroke="#141414" stroke-width="0.8"/>
<line x1="82.40" y1="389.40" x2="95.90" y2="389.40" stroke="#2a1a22" stroke-width="1.5" stroke-linecap="butt"/>
</g>
<g><clipPath id="h102_331"><rect x="102.2" y="331.5" width="79.39999999999999" height="61.10000000000002"/></clipPath>
<g clip-path="url(#h102_331)">
<rect x="102.20" y="331.50" width="79.40" height="61.10" fill="#ab5673"/>
<rect x="102.2" y="331.5" width="79.39999999999999" height="61.10000000000002" filter="url(#nzP2)" opacity="1.0"/>
<g filter="url(#b3)">
<ellipse cx="139.5" cy="357.2" rx="11" ry="23" fill="#a51a4b" opacity="0.8" transform="rotate(0 139.5 357.2)"/>
<ellipse cx="119.7" cy="336.4" rx="16" ry="6" fill="#a51a4b" opacity="0.7" transform="rotate(0 119.7 336.4)"/>
<ellipse cx="141.9" cy="332.7" rx="20" ry="4" fill="#a51a4b" opacity="0.7" transform="rotate(0 141.9 332.7)"/>
<ellipse cx="179.2" cy="368.2" rx="4" ry="8" fill="#a51a4b" opacity="0.6" transform="rotate(0 179.2 368.2)"/>
<ellipse cx="134.0" cy="390.8" rx="10" ry="3" fill="#a51a4b" opacity="0.6" transform="rotate(0 134.0 390.8)"/>
</g>
<rect x="102.2" y="331.5" width="79.39999999999999" height="61.10000000000002" filter="url(#nzG)" opacity="0.5"/>
<rect x="102.2" y="331.5" width="79.39999999999999" height="61.10000000000002" filter="url(#nzL)" opacity="0.35"/>
<g filter="url(#b1)"><line x1="106" y1="347.5" x2="124" y2="348.8" stroke="#b9a3b8" stroke-width="1.8"/><line x1="160" y1="350.5" x2="176" y2="345.5" stroke="#b9a3b8" stroke-width="2"/></g>
<circle cx="128.1" cy="360.2" r="0.37" fill="#1c427a"/>
<circle cx="127.0" cy="372.2" r="0.68" fill="#1c427a"/>
<circle cx="123.8" cy="359.6" r="0.62" fill="#1c427a"/>
<circle cx="122.8" cy="359.1" r="0.41" fill="#1c427a"/>
<circle cx="123.0" cy="368.2" r="0.67" fill="#1c427a"/>
<circle cx="128.3" cy="364.5" r="0.59" fill="#1c427a"/>
<circle cx="123.3" cy="367.1" r="0.36" fill="#1c427a"/>
<circle cx="126.2" cy="366.5" r="0.49" fill="#1c427a"/>
<circle cx="122.0" cy="375.7" r="0.58" fill="#1c427a"/>
<circle cx="123.3" cy="363.1" r="0.35" fill="#1c427a"/>
<circle cx="138.0" cy="381.3" r="0.57" fill="#1c427a"/>
<circle cx="149.0" cy="380.4" r="0.42" fill="#1c427a"/>
<circle cx="148.4" cy="378.4" r="0.68" fill="#1c427a"/>
<circle cx="148.5" cy="378.7" r="0.70" fill="#1c427a"/>
<circle cx="128.7" cy="384.5" r="0.78" fill="#1c427a"/>
<circle cx="145.2" cy="383.0" r="0.67" fill="#1c427a"/>
<circle cx="131.9" cy="380.9" r="0.57" fill="#1c427a"/>
<circle cx="146.2" cy="379.4" r="0.72" fill="#1c427a"/>
<circle cx="131.5" cy="383.4" r="0.75" fill="#1c427a"/>
<circle cx="131.5" cy="381.0" r="0.76" fill="#1c427a"/>
<circle cx="149.4" cy="342.0" r="0.44" fill="#1c427a"/>
<circle cx="148.2" cy="362.0" r="0.42" fill="#1c427a"/>
<circle cx="151.4" cy="347.6" r="0.76" fill="#1c427a"/>
<circle cx="147.7" cy="369.6" r="0.66" fill="#1c427a"/>
<circle cx="147.0" cy="350.8" r="0.64" fill="#1c427a"/>
<circle cx="148.1" cy="347.4" r="0.44" fill="#1c427a"/>
<circle cx="144.3" cy="349.7" r="0.63" fill="#1c427a"/>
<circle cx="153.8" cy="357.8" r="0.67" fill="#1c427a"/>
<circle cx="151.1" cy="348.2" r="0.68" fill="#1c427a"/>
<circle cx="174.0" cy="340.1" r="0.47" fill="#1c427a"/>
<circle cx="170.6" cy="343.8" r="0.39" fill="#1c427a"/>
<circle cx="163.5" cy="338.2" r="0.45" fill="#1c427a"/>
<circle cx="171.3" cy="343.7" r="0.53" fill="#1c427a"/>
<circle cx="106.8" cy="336.8" r="0.51" fill="#1c427a"/>
<circle cx="108.6" cy="341.6" r="0.38" fill="#1c427a"/>
<circle cx="107.5" cy="337.4" r="0.67" fill="#1c427a"/>
</g>
<rect x="102.2" y="331.5" width="79.39999999999999" height="61.10000000000002" fill="none" stroke="#141414" stroke-width="0.8"/>
<line x1="164.00" y1="389.40" x2="177.30" y2="389.40" stroke="#2a1a22" stroke-width="1.5" stroke-linecap="butt"/>
</g>
<g><clipPath id="h20_394"><rect x="20.4" y="394.5" width="79.30000000000001" height="61.10000000000002"/></clipPath>
<g clip-path="url(#h20_394)">
<rect x="20.40" y="394.50" width="79.30" height="61.10" fill="#c4667f"/>
<rect x="20.4" y="394.5" width="79.30000000000001" height="61.10000000000002" filter="url(#nzP3)" opacity="1.0"/>
<g filter="url(#b3)">
<ellipse cx="53.7" cy="411.0" rx="29" ry="18" fill="#ca1f54" opacity="0.9" transform="rotate(0 53.7 411.0)"/>
<ellipse cx="39.4" cy="449.5" rx="21" ry="9" fill="#ca1f54" opacity="0.9" transform="rotate(0 39.4 449.5)"/>
<ellipse cx="82.3" cy="452.5" rx="13" ry="5" fill="#ca1f54" opacity="0.8" transform="rotate(0 82.3 452.5)"/>
<ellipse cx="23.6" cy="400.6" rx="7" ry="10" fill="#ca1f54" opacity="0.8" transform="rotate(0 23.6 400.6)"/>
<ellipse cx="64.0" cy="443.4" rx="7" ry="6" fill="#ca1f54" opacity="0.6" transform="rotate(0 64.0 443.4)"/>
</g>
<rect x="20.4" y="394.5" width="79.30000000000001" height="61.10000000000002" filter="url(#nzG)" opacity="0.5"/>
<rect x="20.4" y="394.5" width="79.30000000000001" height="61.10000000000002" filter="url(#nzL)" opacity="0.35"/>
<circle cx="88.1" cy="413.6" r="0.63" fill="#1c427a"/>
<circle cx="84.3" cy="402.0" r="0.46" fill="#1c427a"/>
<circle cx="93.8" cy="407.6" r="0.57" fill="#1c427a"/>
<circle cx="88.8" cy="424.8" r="0.68" fill="#1c427a"/>
<circle cx="89.7" cy="401.4" r="0.78" fill="#1c427a"/>
<circle cx="90.4" cy="413.1" r="0.91" fill="#1c427a"/>
<circle cx="82.6" cy="405.4" r="0.80" fill="#1c427a"/>
<circle cx="92.7" cy="410.3" r="0.75" fill="#1c427a"/>
<circle cx="87.6" cy="408.0" r="0.90" fill="#1c427a"/>
<circle cx="82.8" cy="408.2" r="0.91" fill="#1c427a"/>
<circle cx="86.2" cy="394.6" r="0.64" fill="#1c427a"/>
<circle cx="88.9" cy="401.1" r="0.94" fill="#1c427a"/>
<circle cx="77.0" cy="425.1" r="0.50" fill="#1c427a"/>
<circle cx="77.6" cy="435.6" r="0.66" fill="#1c427a"/>
<circle cx="74.0" cy="424.1" r="0.70" fill="#1c427a"/>
<circle cx="73.7" cy="428.5" r="0.75" fill="#1c427a"/>
<circle cx="70.0" cy="422.3" r="0.80" fill="#1c427a"/>
<circle cx="81.5" cy="423.2" r="0.97" fill="#1c427a"/>
<circle cx="75.0" cy="424.3" r="0.90" fill="#1c427a"/>
<circle cx="82.6" cy="424.5" r="0.74" fill="#1c427a"/>
<circle cx="75.4" cy="423.8" r="0.89" fill="#1c427a"/>
<circle cx="73.6" cy="424.9" r="0.46" fill="#1c427a"/>
<circle cx="71.7" cy="429.3" r="0.47" fill="#1c427a"/>
<circle cx="62.1" cy="431.5" r="0.50" fill="#1c427a"/>
<circle cx="57.1" cy="435.5" r="0.91" fill="#1c427a"/>
<circle cx="68.5" cy="433.6" r="0.45" fill="#1c427a"/>
<circle cx="58.9" cy="431.7" r="0.91" fill="#1c427a"/>
<circle cx="67.5" cy="432.8" r="0.98" fill="#1c427a"/>
<circle cx="59.1" cy="433.6" r="0.76" fill="#1c427a"/>
<circle cx="64.2" cy="433.2" r="0.65" fill="#1c427a"/>
<circle cx="57.2" cy="432.4" r="0.44" fill="#1c427a"/>
<circle cx="63.8" cy="432.0" r="0.96" fill="#1c427a"/>
<circle cx="65.0" cy="432.1" r="0.68" fill="#1c427a"/>
<circle cx="51.0" cy="432.7" r="0.75" fill="#1c427a"/>
<circle cx="39.1" cy="427.8" r="1.00" fill="#1c427a"/>
<circle cx="40.0" cy="429.2" r="0.87" fill="#1c427a"/>
<circle cx="44.5" cy="431.9" r="1.02" fill="#1c427a"/>
<circle cx="39.2" cy="428.8" r="0.45" fill="#1c427a"/>
<circle cx="39.7" cy="431.4" r="0.46" fill="#1c427a"/>
<circle cx="40.0" cy="426.5" r="0.48" fill="#1c427a"/>
<circle cx="41.1" cy="426.9" r="0.85" fill="#1c427a"/>
<circle cx="40.5" cy="433.2" r="0.88" fill="#1c427a"/>
<circle cx="45.6" cy="429.5" r="0.84" fill="#1c427a"/>
<circle cx="47.1" cy="428.8" r="0.71" fill="#1c427a"/>
<circle cx="23.2" cy="410.5" r="0.51" fill="#1c427a"/>
<circle cx="23.8" cy="417.2" r="0.61" fill="#1c427a"/>
<circle cx="23.9" cy="417.3" r="0.69" fill="#1c427a"/>
<circle cx="26.4" cy="413.9" r="0.68" fill="#1c427a"/>
<circle cx="24.0" cy="416.1" r="0.71" fill="#1c427a"/>
<circle cx="24.4" cy="416.0" r="0.54" fill="#1c427a"/>
<circle cx="24.1" cy="443.3" r="0.49" fill="#1c427a"/>
<circle cx="22.9" cy="449.6" r="0.54" fill="#1c427a"/>
<circle cx="25.0" cy="443.1" r="0.50" fill="#1c427a"/>
<circle cx="22.4" cy="439.5" r="0.55" fill="#1c427a"/>
<circle cx="65.8" cy="450.7" r="0.58" fill="#1c427a"/>
<circle cx="67.2" cy="453.6" r="0.72" fill="#1c427a"/>
<circle cx="66.4" cy="451.3" r="0.71" fill="#1c427a"/>
<circle cx="62.9" cy="446.0" r="0.50" fill="#1c427a"/>
<circle cx="67.0" cy="451.0" r="0.70" fill="#1c427a"/>
<circle cx="91.3" cy="436.7" r="0.46" fill="#1c427a"/>
<circle cx="88.2" cy="434.2" r="0.65" fill="#1c427a"/>
<circle cx="92.0" cy="431.7" r="0.66" fill="#1c427a"/>
<circle cx="100.3" cy="418.8" r="0.46" fill="#1c427a"/>
<circle cx="100.4" cy="426.8" r="0.38" fill="#1c427a"/>
<circle cx="91.6" cy="419.5" r="0.55" fill="#1c427a"/>
</g>
<rect x="20.4" y="394.5" width="79.30000000000001" height="61.10000000000002" fill="none" stroke="#141414" stroke-width="0.8"/>
<line x1="82.40" y1="450.00" x2="95.90" y2="450.00" stroke="#2a1a22" stroke-width="1.5" stroke-linecap="butt"/>
</g>
<g><clipPath id="h102_394"><rect x="102.2" y="394.5" width="79.39999999999999" height="61.10000000000002"/></clipPath>
<g clip-path="url(#h102_394)">
<rect x="102.20" y="394.50" width="79.40" height="61.10" fill="#cb5f7c"/>
<rect x="102.2" y="394.5" width="79.39999999999999" height="61.10000000000002" filter="url(#nzP4)" opacity="1.0"/>
<g filter="url(#b3)">
<ellipse cx="154.6" cy="409.2" rx="27" ry="17" fill="#ca1f54" opacity="0.8" transform="rotate(0 154.6 409.2)"/>
<ellipse cx="141.9" cy="442.2" rx="17" ry="16" fill="#ca1f54" opacity="0.8" transform="rotate(0 141.9 442.2)"/>
<ellipse cx="137.9" cy="397.6" rx="20" ry="5" fill="#ca1f54" opacity="0.6" transform="rotate(0 137.9 397.6)"/>
<ellipse cx="177.6" cy="452.5" rx="8" ry="5" fill="#ca1f54" opacity="0.6" transform="rotate(0 177.6 452.5)"/>
</g>
<rect x="102.2" y="394.5" width="79.39999999999999" height="61.10000000000002" filter="url(#nzG)" opacity="0.5"/>
<rect x="102.2" y="394.5" width="79.39999999999999" height="61.10000000000002" filter="url(#nzL)" opacity="0.35"/>
<circle cx="140.6" cy="414.5" r="0.52" fill="#1c427a"/>
<circle cx="141.6" cy="414.0" r="0.53" fill="#1c427a"/>
<circle cx="150.2" cy="409.6" r="0.69" fill="#1c427a"/>
<circle cx="141.7" cy="417.3" r="0.47" fill="#1c427a"/>
<circle cx="141.7" cy="414.4" r="0.44" fill="#1c427a"/>
<circle cx="151.0" cy="409.8" r="0.71" fill="#1c427a"/>
<circle cx="141.6" cy="410.5" r="0.48" fill="#1c427a"/>
<circle cx="133.1" cy="408.6" r="0.73" fill="#1c427a"/>
<circle cx="142.3" cy="411.8" r="0.62" fill="#1c427a"/>
<circle cx="158.4" cy="424.3" r="0.42" fill="#1c427a"/>
<circle cx="158.8" cy="428.4" r="0.77" fill="#1c427a"/>
<circle cx="162.8" cy="424.7" r="0.48" fill="#1c427a"/>
<circle cx="163.6" cy="425.5" r="0.74" fill="#1c427a"/>
<circle cx="162.3" cy="424.5" r="0.53" fill="#1c427a"/>
<circle cx="157.4" cy="425.8" r="0.42" fill="#1c427a"/>
<circle cx="158.2" cy="434.4" r="0.36" fill="#1c427a"/>
<circle cx="164.4" cy="429.6" r="0.47" fill="#1c427a"/>
<circle cx="120.1" cy="431.3" r="0.46" fill="#1c427a"/>
<circle cx="127.1" cy="432.3" r="0.49" fill="#1c427a"/>
<circle cx="126.1" cy="438.2" r="0.44" fill="#1c427a"/>
<circle cx="120.4" cy="438.0" r="0.45" fill="#1c427a"/>
<circle cx="116.4" cy="429.1" r="0.36" fill="#1c427a"/>
<circle cx="127.1" cy="433.5" r="0.64" fill="#1c427a"/>
<circle cx="122.2" cy="430.3" r="0.46" fill="#1c427a"/>
<circle cx="178.8" cy="410.4" r="0.36" fill="#1c427a"/>
<circle cx="177.9" cy="403.0" r="0.78" fill="#1c427a"/>
<circle cx="178.2" cy="401.8" r="0.35" fill="#1c427a"/>
</g>
<rect x="102.2" y="394.5" width="79.39999999999999" height="61.10000000000002" fill="none" stroke="#141414" stroke-width="0.8"/>
<line x1="164.00" y1="450.00" x2="177.30" y2="450.00" stroke="#2a1a22" stroke-width="1.5" stroke-linecap="butt"/>
</g>
<text transform="translate(195.90 312.30) scale(1.0 1)" x="0" y="0" font-size="11.6" font-weight="bold" fill="#000">G</text>
<rect x="225.40" y="302.70" width="13.40" height="8.60" fill="#c62036"/>
<rect x="225.40" y="316.50" width="13.40" height="8.90" fill="#145487"/>
<text x="241.70" y="309.60" font-size="7.07" text-anchor="start" font-style="italic" fill="#0a0a0a" stroke="#0a0a0a" stroke-width="0.18" textLength="21.85" lengthAdjust="spacingAndGlyphs">Tet1<tspan font-size="4.24" dy="-2.69" fill="#0a0a0a" stroke="none">+/+</tspan></text>
<text x="241.70" y="323.60" font-size="7.07" text-anchor="start" font-style="italic" fill="#0a0a0a" stroke="#0a0a0a" stroke-width="0.18" textLength="21.85" lengthAdjust="spacingAndGlyphs">Tet1<tspan font-size="4.24" dy="-2.69" fill="#555" stroke="none">-/-</tspan></text>
<text x="240.60" y="337.70" font-size="9.3" text-anchor="middle" font-weight="normal" font-style="normal" fill="#0a0a0a">3-Days</text>
<text x="240.60" y="407.70" font-size="9.3" text-anchor="middle" font-weight="normal" font-style="normal" fill="#0a0a0a">7-Days</text>
<text x="207.60" y="396.00" font-size="8.8" text-anchor="middle" font-weight="normal" font-style="normal" fill="#0a0a0a" transform="rotate(-90 207.60 396.00)" textLength="99.00" lengthAdjust="spacingAndGlyphs">Perls’ blue (positive area % )</text>
<line x1="227.50" y1="345.90" x2="227.50" y2="393.10" stroke="#000" stroke-width="1.25" stroke-linecap="butt"/>
<line x1="224.00" y1="346.50" x2="227.50" y2="346.50" stroke="#000" stroke-width="1.25" stroke-linecap="butt"/>
<text x="223.30" y="349.16" font-size="7.4" text-anchor="end" font-weight="normal" font-style="normal" fill="#0a0a0a" textLength="9.05" lengthAdjust="spacingAndGlyphs">20</text>
<line x1="224.00" y1="357.50" x2="227.50" y2="357.50" stroke="#000" stroke-width="1.25" stroke-linecap="butt"/>
<text x="223.30" y="360.16" font-size="7.4" text-anchor="end" font-weight="normal" font-style="normal" fill="#0a0a0a" textLength="9.05" lengthAdjust="spacingAndGlyphs">15</text>
<line x1="224.00" y1="369.50" x2="227.50" y2="369.50" stroke="#000" stroke-width="1.25" stroke-linecap="butt"/>
<text x="223.30" y="372.16" font-size="7.4" text-anchor="end" font-weight="normal" font-style="normal" fill="#0a0a0a" textLength="9.05" lengthAdjust="spacingAndGlyphs">10</text>
<line x1="224.00" y1="380.50" x2="227.50" y2="380.50" stroke="#000" stroke-width="1.25" stroke-linecap="butt"/>
<text x="223.30" y="383.16" font-size="7.4" text-anchor="end" font-weight="normal" font-style="normal" fill="#0a0a0a" textLength="4.53" lengthAdjust="spacingAndGlyphs">5</text>
<line x1="224.00" y1="392.50" x2="227.50" y2="392.50" stroke="#000" stroke-width="1.25" stroke-linecap="butt"/>
<text x="223.30" y="395.16" font-size="7.4" text-anchor="end" font-weight="normal" font-style="normal" fill="#0a0a0a" textLength="4.53" lengthAdjust="spacingAndGlyphs">0</text>
<line x1="226.90" y1="392.50" x2="257.70" y2="392.50" stroke="#000" stroke-width="1.25" stroke-linecap="butt"/>
<line x1="236.50" y1="392.50" x2="236.50" y2="395.60" stroke="#000" stroke-width="1.25" stroke-linecap="butt"/>
<line x1="249.50" y1="392.50" x2="249.50" y2="395.60" stroke="#000" stroke-width="1.25" stroke-linecap="butt"/>
<rect x="230.80" y="355.60" width="10.40" height="36.50" fill="#c62036"/>
<rect x="243.70" y="376.70" width="10.50" height="15.40" fill="#145487"/>
<line x1="236.50" y1="355.60" x2="236.50" y2="352.50" stroke="#000" stroke-width="1.1" stroke-linecap="butt"/>
<line x1="234.30" y1="352.50" x2="238.70" y2="352.50" stroke="#000" stroke-width="1.1" stroke-linecap="butt"/>
<line x1="249.50" y1="376.70" x2="249.50" y2="372.50" stroke="#000" stroke-width="1.1" stroke-linecap="butt"/>
<line x1="247.30" y1="372.50" x2="251.70" y2="372.50" stroke="#000" stroke-width="1.1" stroke-linecap="butt"/>
<circle cx="234.60" cy="351.30" r="1.85" fill="#2bb1e8" stroke="#04101f" stroke-width="1.3"/>
<circle cx="239.20" cy="351.30" r="1.85" fill="#2bb1e8" stroke="#04101f" stroke-width="1.3"/>
<circle cx="236.00" cy="356.50" r="1.85" fill="#2bb1e8" stroke="#04101f" stroke-width="1.3"/>
<circle cx="235.40" cy="361.70" r="1.85" fill="#2bb1e8" stroke="#04101f" stroke-width="1.3"/>
<rect x="244.65" y="366.65" width="3.7" height="3.7" fill="#2bb1e8" stroke="#04101f" stroke-width="1.3"/>
<rect x="250.85" y="370.45" width="3.7" height="3.7" fill="#2bb1e8" stroke="#04101f" stroke-width="1.3"/>
<rect x="248.15" y="377.35" width="3.7" height="3.7" fill="#2bb1e8" stroke="#04101f" stroke-width="1.3"/>
<rect x="248.15" y="382.55" width="3.7" height="3.7" fill="#2bb1e8" stroke="#04101f" stroke-width="1.3"/>
<line x1="233.10" y1="348.50" x2="253.80" y2="348.50" stroke="#262626" stroke-width="1.25" stroke-linecap="butt"/>
<text x="243.50" y="348.45" font-size="10" text-anchor="middle" font-weight="normal" font-style="normal" fill="#111">**</text>
<line x1="227.50" y1="413.90" x2="227.50" y2="460.10" stroke="#000" stroke-width="1.25" stroke-linecap="butt"/>
<line x1="224.00" y1="414.50" x2="227.50" y2="414.50" stroke="#000" stroke-width="1.25" stroke-linecap="butt"/>
<text x="223.30" y="417.16" font-size="7.4" text-anchor="end" font-weight="normal" font-style="normal" fill="#0a0a0a" textLength="9.05" lengthAdjust="spacingAndGlyphs">15</text>
<line x1="224.00" y1="429.50" x2="227.50" y2="429.50" stroke="#000" stroke-width="1.25" stroke-linecap="butt"/>
<text x="223.30" y="432.16" font-size="7.4" text-anchor="end" font-weight="normal" font-style="normal" fill="#0a0a0a" textLength="9.05" lengthAdjust="spacingAndGlyphs">10</text>
<line x1="224.00" y1="444.50" x2="227.50" y2="444.50" stroke="#000" stroke-width="1.25" stroke-linecap="butt"/>
<text x="223.30" y="447.16" font-size="7.4" text-anchor="end" font-weight="normal" font-style="normal" fill="#0a0a0a" textLength="4.53" lengthAdjust="spacingAndGlyphs">5</text>
<line x1="224.00" y1="459.50" x2="227.50" y2="459.50" stroke="#000" stroke-width="1.25" stroke-linecap="butt"/>
<text x="223.30" y="462.16" font-size="7.4" text-anchor="end" font-weight="normal" font-style="normal" fill="#0a0a0a" textLength="4.53" lengthAdjust="spacingAndGlyphs">0</text>
<line x1="226.90" y1="459.50" x2="257.70" y2="459.50" stroke="#000" stroke-width="1.25" stroke-linecap="butt"/>
<line x1="236.50" y1="459.50" x2="236.50" y2="462.60" stroke="#000" stroke-width="1.25" stroke-linecap="butt"/>
<line x1="249.50" y1="459.50" x2="249.50" y2="462.60" stroke="#000" stroke-width="1.25" stroke-linecap="butt"/>
<rect x="230.80" y="432.10" width="10.40" height="27.50" fill="#c62036"/>
<rect x="243.70" y="451.00" width="10.50" height="8.60" fill="#145487"/>
<circle cx="232.70" cy="430.80" r="1.85" fill="#2bb1e8" stroke="#04101f" stroke-width="1.3"/>
<circle cx="236.00" cy="430.20" r="1.85" fill="#2bb1e8" stroke="#04101f" stroke-width="1.3"/>
<circle cx="236.50" cy="433.10" r="1.85" fill="#2bb1e8" stroke="#04101f" stroke-width="1.3"/>
<circle cx="239.40" cy="435.00" r="1.85" fill="#2bb1e8" stroke="#04101f" stroke-width="1.3"/>
<rect x="245.05" y="448.55" width="3.7" height="3.7" fill="#2bb1e8" stroke="#04101f" stroke-width="1.3"/>
<rect x="244.65" y="451.45" width="3.7" height="3.7" fill="#2bb1e8" stroke="#04101f" stroke-width="1.3"/>
<rect x="249.85" y="451.45" width="3.7" height="3.7" fill="#2bb1e8" stroke="#04101f" stroke-width="1.3"/>
<rect x="244.65" y="455.25" width="3.7" height="3.7" fill="#2bb1e8" stroke="#04101f" stroke-width="1.3"/>
<rect x="249.85" y="455.25" width="3.7" height="3.7" fill="#2bb1e8" stroke="#04101f" stroke-width="1.3"/>
<line x1="232.70" y1="426.50" x2="253.80" y2="426.50" stroke="#262626" stroke-width="1.25" stroke-linecap="butt"/>
<text x="244.20" y="425.15" font-size="10" text-anchor="middle" font-weight="normal" font-style="normal" fill="#111">**</text>
<text x="355.00" y="310.60" font-size="9.5" text-anchor="middle" font-weight="normal" font-style="normal" fill="#0a0a0a">FPN IHC Staining</text>
<line x1="278.20" y1="314.50" x2="438.10" y2="314.50" stroke="#1a1a1a" stroke-width="1.15" stroke-linecap="butt"/>
<text x="319.70" y="324.60" font-size="7.52" text-anchor="middle" font-style="italic" fill="#0a0a0a" stroke="#0a0a0a" stroke-width="0.18" textLength="23.26" lengthAdjust="spacingAndGlyphs">Tet1<tspan font-size="4.51" dy="-2.86" fill="#0a0a0a" stroke="none">+/+</tspan></text>
<text x="400.70" y="324.60" font-size="7.52" text-anchor="middle" font-style="italic" fill="#0a0a0a" stroke="#0a0a0a" stroke-width="0.18" textLength="23.26" lengthAdjust="spacingAndGlyphs">Tet1<tspan font-size="4.51" dy="-2.86" fill="#555" stroke="none">-/-</tspan></text>
<text x="273.00" y="361.30" font-size="6.8" text-anchor="middle" font-weight="normal" font-style="normal" fill="#0a0a0a" transform="rotate(-90 273.00 361.30)">3- Days</text>
<text x="273.00" y="423.50" font-size="6.8" text-anchor="middle" font-weight="normal" font-style="normal" fill="#0a0a0a" transform="rotate(-90 273.00 423.50)">7- Days</text>
<g><clipPath id="h278_331"><rect x="278.4" y="331.5" width="79.60000000000002" height="61.19999999999999"/></clipPath>
<mask id="mh278_331" maskUnits="userSpaceOnUse" x="278.4" y="331.5" width="79.60000000000002" height="61.19999999999999"><rect x="278.4" y="331.5" width="79.60000000000002" height="61.19999999999999" fill="#666"/><g filter="url(#b4)">
<ellipse cx="302.3" cy="345.0" rx="16" ry="8" fill="#fff" opacity="1.00" transform="rotate(20 302.3 345.0)"/>
<ellipse cx="326.2" cy="359.0" rx="15" ry="4.5" fill="#fff" opacity="1.00" transform="rotate(35 326.2 359.0)"/>
<ellipse cx="343.7" cy="349.9" rx="9" ry="12" fill="#fff" opacity="0.88" transform="rotate(0 343.7 349.9)"/>
<ellipse cx="288.0" cy="374.3" rx="8" ry="10" fill="#fff" opacity="0.75" transform="rotate(0 288.0 374.3)"/>
<ellipse cx="322.2" cy="386.6" rx="14" ry="4" fill="#fff" opacity="0.62" transform="rotate(0 322.2 386.6)"/>
</g></mask>
<g clip-path="url(#h278_331)">
<rect x="278.40" y="331.50" width="79.60" height="61.20" fill="#bab1d5"/>
<g filter="url(#b4)">
<ellipse cx="302.3" cy="345.0" rx="16" ry="8" fill="#dacfcd" opacity="0.5" transform="rotate(20 302.3 345.0)"/>
<ellipse cx="340.5" cy="352.9" rx="11" ry="12" fill="#dacfcd" opacity="0.5" transform="rotate(0 340.5 352.9)"/>
<ellipse cx="314.2" cy="375.6" rx="18" ry="7" fill="#b0a6d0" opacity="0.7" transform="rotate(0 314.2 375.6)"/>
<ellipse cx="286.4" cy="340.7" rx="7" ry="7" fill="#b0a6d0" opacity="0.5" transform="rotate(0 286.4 340.7)"/>
<ellipse cx="302.3" cy="345.0" rx="16" ry="8" fill="#ddd6e2" opacity="0.72" transform="rotate(20 302.3 345.0)"/>
<ellipse cx="326.2" cy="359.0" rx="15" ry="4.5" fill="#ddd6e2" opacity="0.72" transform="rotate(35 326.2 359.0)"/>
<ellipse cx="343.7" cy="349.9" rx="9" ry="12" fill="#ddd6e2" opacity="0.63" transform="rotate(0 343.7 349.9)"/>
<ellipse cx="288.0" cy="374.3" rx="8" ry="10" fill="#ddd6e2" opacity="0.54" transform="rotate(0 288.0 374.3)"/>
<ellipse cx="322.2" cy="386.6" rx="14" ry="4" fill="#ddd6e2" opacity="0.45" transform="rotate(0 322.2 386.6)"/>
</g>
<g mask="url(#mh278_331)"><rect x="278.4" y="331.5" width="79.60000000000002" height="61.19999999999999" filter="url(#nzI)" opacity="1.0"/></g>
<circle cx="290.0" cy="338.4" r="0.56" fill="#b39278" opacity="0.5"/>
<circle cx="354.9" cy="347.1" r="0.60" fill="#b39278" opacity="0.5"/>
<circle cx="344.5" cy="359.1" r="0.61" fill="#b39278" opacity="0.5"/>
<circle cx="287.8" cy="329.5" r="0.31" fill="#b39278" opacity="0.5"/>
<circle cx="300.6" cy="358.2" r="0.47" fill="#b39278" opacity="0.5"/>
<circle cx="314.7" cy="354.9" r="0.35" fill="#b39278" opacity="0.5"/>
<circle cx="308.4" cy="389.5" r="0.55" fill="#b39278" opacity="0.5"/>
<circle cx="341.1" cy="379.0" r="0.32" fill="#b39278" opacity="0.5"/>
<circle cx="309.0" cy="350.6" r="0.27" fill="#b39278" opacity="0.5"/>
<circle cx="329.5" cy="348.4" r="0.35" fill="#b39278" opacity="0.5"/>
<circle cx="366.4" cy="352.6" r="0.37" fill="#b39278" opacity="0.5"/>
<circle cx="347.1" cy="351.4" r="0.51" fill="#b39278" opacity="0.5"/>
<circle cx="334.1" cy="390.9" r="0.52" fill="#b39278" opacity="0.5"/>
<circle cx="367.7" cy="349.2" r="0.38" fill="#b39278" opacity="0.5"/>
<circle cx="308.9" cy="363.0" r="0.32" fill="#b39278" opacity="0.5"/>
<circle cx="336.8" cy="361.1" r="0.49" fill="#b39278" opacity="0.5"/>
<circle cx="354.1" cy="356.5" r="0.39" fill="#b39278" opacity="0.5"/>
<circle cx="302.0" cy="382.3" r="0.44" fill="#b39278" opacity="0.5"/>
<circle cx="307.2" cy="372.0" r="0.52" fill="#b39278" opacity="0.5"/>
<circle cx="379.0" cy="370.6" r="0.28" fill="#b39278" opacity="0.5"/>
</g>
<rect x="278.4" y="331.5" width="79.60000000000002" height="61.19999999999999" fill="none" stroke="#1e1e1e" stroke-width="0.8"/>
<line x1="341.00" y1="388.00" x2="354.90" y2="388.00" stroke="#2c2c30" stroke-width="1.6" stroke-linecap="butt"/>
</g>
<g><clipPath id="h360_331"><rect x="360.2" y="331.5" width="78.40000000000003" height="61.19999999999999"/></clipPath>
<mask id="mh360_331" maskUnits="userSpaceOnUse" x="360.2" y="331.5" width="78.40000000000003" height="61.19999999999999"><rect x="360.2" y="331.5" width="78.40000000000003" height="61.19999999999999" fill="#666"/><g filter="url(#b4)">
<ellipse cx="383.7" cy="362.1" rx="20" ry="18" fill="#fff" opacity="1.00" transform="rotate(0 383.7 362.1)"/>
<ellipse cx="407.2" cy="340.7" rx="18" ry="7" fill="#fff" opacity="0.75" transform="rotate(0 407.2 340.7)"/>
</g></mask>
<g clip-path="url(#h360_331)">
<rect x="360.20" y="331.50" width="78.40" height="61.20" fill="#c8bed2"/>
<g filter="url(#b4)">
<ellipse cx="385.3" cy="362.1" rx="22" ry="20" fill="#dacfcd" opacity="0.85" transform="rotate(0 385.3 362.1)"/>
<ellipse cx="411.2" cy="342.5" rx="18" ry="8" fill="#dacfcd" opacity="0.7" transform="rotate(0 411.2 342.5)"/>
<ellipse cx="424.5" cy="374.3" rx="13" ry="10" fill="#b3a9d1" opacity="0.8" transform="rotate(-20 424.5 374.3)"/>
<ellipse cx="434.7" cy="349.9" rx="5" ry="8" fill="#b8aed2" opacity="0.6" transform="rotate(0 434.7 349.9)"/>
<ellipse cx="383.7" cy="362.1" rx="20" ry="18" fill="#ddd6e0" opacity="0.68" transform="rotate(0 383.7 362.1)"/>
<ellipse cx="407.2" cy="340.7" rx="18" ry="7" fill="#ddd6e0" opacity="0.51" transform="rotate(0 407.2 340.7)"/>
</g>
<g mask="url(#mh360_331)"><rect x="360.2" y="331.5" width="78.40000000000003" height="61.19999999999999" filter="url(#nzI)" opacity="1.0"/></g>
<rect x="360.2" y="331.5" width="78.40000000000003" height="61.19999999999999" filter="url(#nzT)" opacity="0.45"/>
<circle cx="401.4" cy="329.2" r="0.49" fill="#b39278" opacity="0.5"/>
<circle cx="391.5" cy="362.7" r="0.57" fill="#b39278" opacity="0.5"/>
<circle cx="359.0" cy="367.9" r="0.45" fill="#b39278" opacity="0.5"/>
<circle cx="393.5" cy="347.6" r="0.62" fill="#b39278" opacity="0.5"/>
<circle cx="389.0" cy="343.3" r="0.52" fill="#b39278" opacity="0.5"/>
<circle cx="386.2" cy="351.2" r="0.52" fill="#b39278" opacity="0.5"/>
<circle cx="396.8" cy="348.5" r="0.62" fill="#b39278" opacity="0.5"/>
<circle cx="376.7" cy="329.5" r="0.43" fill="#b39278" opacity="0.5"/>
<circle cx="420.9" cy="380.3" r="0.62" fill="#b39278" opacity="0.5"/>
<circle cx="383.4" cy="364.8" r="0.38" fill="#b39278" opacity="0.5"/>
<circle cx="380.8" cy="350.7" r="0.68" fill="#b39278" opacity="0.5"/>
<circle cx="380.4" cy="355.6" r="0.56" fill="#b39278" opacity="0.5"/>
<circle cx="362.4" cy="394.9" r="0.66" fill="#b39278" opacity="0.5"/>
<circle cx="363.5" cy="359.7" r="0.58" fill="#b39278" opacity="0.5"/>
<circle cx="409.9" cy="314.9" r="0.31" fill="#b39278" opacity="0.5"/>
<circle cx="374.4" cy="381.2" r="0.42" fill="#b39278" opacity="0.5"/>
<circle cx="384.4" cy="357.9" r="0.65" fill="#b39278" opacity="0.5"/>
<circle cx="381.9" cy="360.7" r="0.57" fill="#b39278" opacity="0.5"/>
<circle cx="386.6" cy="373.3" r="0.49" fill="#b39278" opacity="0.5"/>
<circle cx="400.3" cy="371.7" r="0.65" fill="#b39278" opacity="0.5"/>
<circle cx="390.6" cy="359.3" r="0.61" fill="#b39278" opacity="0.5"/>
<circle cx="409.1" cy="363.9" r="0.66" fill="#b39278" opacity="0.5"/>
<circle cx="379.4" cy="351.3" r="0.45" fill="#b39278" opacity="0.5"/>
<circle cx="383.7" cy="368.2" r="0.70" fill="#b39278" opacity="0.5"/>
<circle cx="410.9" cy="368.5" r="0.60" fill="#b39278" opacity="0.5"/>
<circle cx="347.4" cy="393.1" r="0.40" fill="#b39278" opacity="0.5"/>
<circle cx="432.6" cy="357.1" r="0.57" fill="#b39278" opacity="0.5"/>
<circle cx="408.0" cy="349.3" r="0.63" fill="#b39278" opacity="0.5"/>
<circle cx="398.3" cy="340.9" r="0.49" fill="#b39278" opacity="0.5"/>
<circle cx="386.0" cy="344.0" r="0.33" fill="#b39278" opacity="0.5"/>
<circle cx="391.2" cy="347.7" r="0.50" fill="#b39278" opacity="0.5"/>
<circle cx="394.1" cy="351.1" r="0.31" fill="#b39278" opacity="0.5"/>
<circle cx="410.2" cy="379.3" r="0.44" fill="#b39278" opacity="0.5"/>
<circle cx="390.7" cy="382.2" r="0.67" fill="#b39278" opacity="0.5"/>
<circle cx="391.0" cy="381.0" r="0.65" fill="#b39278" opacity="0.5"/>
<circle cx="379.8" cy="352.7" r="0.49" fill="#b39278" opacity="0.5"/>
<circle cx="380.8" cy="363.5" r="0.45" fill="#b39278" opacity="0.5"/>
<circle cx="379.4" cy="393.3" r="0.43" fill="#b39278" opacity="0.5"/>
<circle cx="363.4" cy="321.0" r="0.67" fill="#b39278" opacity="0.5"/>
<circle cx="372.6" cy="379.6" r="0.43" fill="#b39278" opacity="0.5"/>
<circle cx="373.4" cy="374.8" r="0.62" fill="#b39278" opacity="0.5"/>
<circle cx="406.5" cy="356.2" r="0.30" fill="#b39278" opacity="0.5"/>
<circle cx="385.2" cy="364.1" r="0.31" fill="#b39278" opacity="0.5"/>
<circle cx="393.0" cy="353.2" r="0.59" fill="#b39278" opacity="0.5"/>
<circle cx="361.6" cy="395.2" r="0.64" fill="#b39278" opacity="0.5"/>
<circle cx="403.4" cy="366.7" r="0.68" fill="#b39278" opacity="0.5"/>
<circle cx="376.0" cy="349.5" r="0.61" fill="#b39278" opacity="0.5"/>
<circle cx="400.4" cy="342.4" r="0.49" fill="#b39278" opacity="0.5"/>
<circle cx="406.6" cy="372.3" r="0.36" fill="#b39278" opacity="0.5"/>
<circle cx="372.7" cy="344.3" r="0.36" fill="#b39278" opacity="0.5"/>
<circle cx="385.4" cy="356.1" r="0.34" fill="#b39278" opacity="0.5"/>
<circle cx="378.2" cy="345.9" r="0.66" fill="#b39278" opacity="0.5"/>
<circle cx="370.6" cy="341.4" r="0.35" fill="#b39278" opacity="0.5"/>
<circle cx="395.6" cy="355.4" r="0.55" fill="#b39278" opacity="0.5"/>
<circle cx="427.9" cy="340.9" r="0.66" fill="#b39278" opacity="0.5"/>
<circle cx="362.8" cy="370.5" r="0.62" fill="#b39278" opacity="0.5"/>
<circle cx="422.2" cy="395.5" r="0.66" fill="#b39278" opacity="0.5"/>
<circle cx="359.8" cy="373.7" r="0.48" fill="#b39278" opacity="0.5"/>
<circle cx="386.4" cy="390.7" r="0.33" fill="#b39278" opacity="0.5"/>
<circle cx="408.4" cy="313.9" r="0.41" fill="#b39278" opacity="0.5"/>
</g>
<rect x="360.2" y="331.5" width="78.40000000000003" height="61.19999999999999" fill="none" stroke="#1e1e1e" stroke-width="0.8"/>
<line x1="422.00" y1="388.00" x2="435.90" y2="388.00" stroke="#2c2c30" stroke-width="1.6" stroke-linecap="butt"/>
</g>
<g><clipPath id="h278_394"><rect x="278.4" y="394.5" width="79.60000000000002" height="61.0"/></clipPath>
<mask id="mh278_394" maskUnits="userSpaceOnUse" x="278.4" y="394.5" width="79.60000000000002" height="61.0"><rect x="278.4" y="394.5" width="79.60000000000002" height="61.0" fill="#666"/><g filter="url(#b4)">
<ellipse cx="295.9" cy="409.8" rx="15" ry="10" fill="#fff" opacity="0.88" transform="rotate(0 295.9 409.8)"/>
<ellipse cx="346.1" cy="421.9" rx="9" ry="16" fill="#fff" opacity="0.88" transform="rotate(0 346.1 421.9)"/>
</g></mask>
<g clip-path="url(#h278_394)">
<rect x="278.40" y="394.50" width="79.60" height="61.00" fill="#bfb5d3"/>
<g filter="url(#b4)">
<ellipse cx="295.9" cy="409.8" rx="17" ry="12" fill="#dacfcd" opacity="0.8" transform="rotate(0 295.9 409.8)"/>
<ellipse cx="346.9" cy="418.9" rx="10" ry="17" fill="#dacfcd" opacity="0.75" transform="rotate(0 346.9 418.9)"/>
<ellipse cx="318.2" cy="428.1" rx="15" ry="12" fill="#b0a6cf" opacity="0.7" transform="rotate(0 318.2 428.1)"/>
<ellipse cx="298.3" cy="448.2" rx="15" ry="6" fill="#b0a6cf" opacity="0.6" transform="rotate(0 298.3 448.2)"/>
<ellipse cx="295.9" cy="409.8" rx="15" ry="10" fill="#ddd6e0" opacity="0.59" transform="rotate(0 295.9 409.8)"/>
<ellipse cx="346.1" cy="421.9" rx="9" ry="16" fill="#ddd6e0" opacity="0.59" transform="rotate(0 346.1 421.9)"/>
</g>
<g mask="url(#mh278_394)"><rect x="278.4" y="394.5" width="79.60000000000002" height="61.0" filter="url(#nzI)" opacity="1.0"/></g>
<rect x="278.4" y="394.5" width="79.60000000000002" height="61.0" filter="url(#nzT)" opacity="0.45"/>
<circle cx="312.1" cy="428.3" r="0.56" fill="#b39278" opacity="0.5"/>
<circle cx="344.8" cy="428.9" r="0.45" fill="#b39278" opacity="0.5"/>
<circle cx="344.8" cy="426.7" r="0.31" fill="#b39278" opacity="0.5"/>
<circle cx="309.9" cy="421.7" r="0.34" fill="#b39278" opacity="0.5"/>
<circle cx="278.4" cy="434.6" r="0.35" fill="#b39278" opacity="0.5"/>
<circle cx="323.8" cy="444.3" r="0.68" fill="#b39278" opacity="0.5"/>
<circle cx="297.0" cy="410.3" r="0.69" fill="#b39278" opacity="0.5"/>
<circle cx="363.4" cy="429.3" r="0.42" fill="#b39278" opacity="0.5"/>
<circle cx="325.6" cy="426.1" r="0.42" fill="#b39278" opacity="0.5"/>
<circle cx="324.3" cy="408.3" r="0.53" fill="#b39278" opacity="0.5"/>
<circle cx="303.4" cy="405.4" r="0.52" fill="#b39278" opacity="0.5"/>
<circle cx="325.9" cy="421.4" r="0.38" fill="#b39278" opacity="0.5"/>
<circle cx="307.5" cy="401.4" r="0.43" fill="#b39278" opacity="0.5"/>
<circle cx="295.7" cy="408.6" r="0.42" fill="#b39278" opacity="0.5"/>
<circle cx="328.4" cy="391.6" r="0.40" fill="#b39278" opacity="0.5"/>
<circle cx="292.2" cy="408.8" r="0.65" fill="#b39278" opacity="0.5"/>
<circle cx="315.7" cy="403.9" r="0.69" fill="#b39278" opacity="0.5"/>
<circle cx="336.5" cy="431.8" r="0.60" fill="#b39278" opacity="0.5"/>
<circle cx="334.2" cy="436.2" r="0.32" fill="#b39278" opacity="0.5"/>
<circle cx="298.2" cy="391.8" r="0.53" fill="#b39278" opacity="0.5"/>
<circle cx="332.9" cy="407.7" r="0.58" fill="#b39278" opacity="0.5"/>
<circle cx="292.1" cy="405.4" r="0.48" fill="#b39278" opacity="0.5"/>
<circle cx="349.0" cy="381.7" r="0.49" fill="#b39278" opacity="0.5"/>
<circle cx="313.9" cy="413.3" r="0.58" fill="#b39278" opacity="0.5"/>
<circle cx="272.8" cy="372.8" r="0.63" fill="#b39278" opacity="0.5"/>
<circle cx="313.1" cy="436.5" r="0.57" fill="#b39278" opacity="0.5"/>
<circle cx="344.5" cy="421.8" r="0.37" fill="#b39278" opacity="0.5"/>
<circle cx="324.4" cy="423.2" r="0.61" fill="#b39278" opacity="0.5"/>
<circle cx="330.6" cy="428.9" r="0.46" fill="#b39278" opacity="0.5"/>
<circle cx="325.0" cy="413.5" r="0.48" fill="#b39278" opacity="0.5"/>
<circle cx="271.1" cy="407.3" r="0.63" fill="#b39278" opacity="0.5"/>
<circle cx="330.9" cy="407.7" r="0.47" fill="#b39278" opacity="0.5"/>
<circle cx="286.9" cy="448.4" r="0.68" fill="#b39278" opacity="0.5"/>
<circle cx="326.9" cy="428.2" r="0.39" fill="#b39278" opacity="0.5"/>
<circle cx="321.1" cy="439.9" r="0.54" fill="#b39278" opacity="0.5"/>
<circle cx="318.0" cy="420.6" r="0.47" fill="#b39278" opacity="0.5"/>
<circle cx="297.2" cy="436.2" r="0.68" fill="#b39278" opacity="0.5"/>
<circle cx="307.7" cy="398.4" r="0.55" fill="#b39278" opacity="0.5"/>
<circle cx="314.6" cy="413.4" r="0.66" fill="#b39278" opacity="0.5"/>
<circle cx="327.3" cy="382.3" r="0.62" fill="#b39278" opacity="0.5"/>
</g>
<rect x="278.4" y="394.5" width="79.60000000000002" height="61.0" fill="none" stroke="#1e1e1e" stroke-width="0.8"/>
<line x1="341.00" y1="451.00" x2="354.90" y2="451.00" stroke="#2c2c30" stroke-width="1.6" stroke-linecap="butt"/>
</g>
<g><clipPath id="h360_394"><rect x="360.2" y="394.5" width="78.40000000000003" height="61.0"/></clipPath>
<mask id="mh360_394" maskUnits="userSpaceOnUse" x="360.2" y="394.5" width="78.40000000000003" height="61.0"><rect x="360.2" y="394.5" width="78.40000000000003" height="61.0" fill="#666"/><g filter="url(#b4)">
<ellipse cx="375.9" cy="409.8" rx="10" ry="8" fill="#fff" opacity="0.62" transform="rotate(0 375.9 409.8)"/>
<ellipse cx="383.7" cy="446.4" rx="14" ry="6" fill="#fff" opacity="0.62" transform="rotate(0 383.7 446.4)"/>
</g></mask>
<g clip-path="url(#h360_394)">
<rect x="360.20" y="394.50" width="78.40" height="61.00" fill="#b5acd5"/>
<g filter="url(#b4)">
<ellipse cx="387.6" cy="428.1" rx="14" ry="16" fill="#c6bcd2" opacity="0.7" transform="rotate(0 387.6 428.1)"/>
<ellipse cx="416.6" cy="425.0" rx="14" ry="14" fill="#aaa0d0" opacity="0.8" transform="rotate(0 416.6 425.0)"/>
<ellipse cx="372.0" cy="400.6" rx="8" ry="6" fill="#aaa0d0" opacity="0.5" transform="rotate(0 372.0 400.6)"/>
<ellipse cx="375.9" cy="409.8" rx="10" ry="8" fill="#ddd6e0" opacity="0.42" transform="rotate(0 375.9 409.8)"/>
<ellipse cx="383.7" cy="446.4" rx="14" ry="6" fill="#ddd6e0" opacity="0.42" transform="rotate(0 383.7 446.4)"/>
</g>
<g mask="url(#mh360_394)"><rect x="360.2" y="394.5" width="78.40000000000003" height="61.0" filter="url(#nzI)" opacity="1.0"/></g>
<rect x="360.2" y="394.5" width="78.40000000000003" height="61.0" filter="url(#nzT)" opacity="0.45"/>
<circle cx="397.4" cy="466.7" r="0.39" fill="#a8784f" opacity="0.5"/>
<circle cx="389.7" cy="421.9" r="0.44" fill="#a8784f" opacity="0.5"/>
<circle cx="402.3" cy="428.0" r="0.61" fill="#a8784f" opacity="0.5"/>
<circle cx="374.9" cy="432.3" r="0.55" fill="#a8784f" opacity="0.5"/>
<circle cx="402.0" cy="454.9" r="0.37" fill="#a8784f" opacity="0.5"/>
<circle cx="391.9" cy="431.1" r="0.45" fill="#a8784f" opacity="0.5"/>
<circle cx="363.3" cy="446.1" r="0.50" fill="#a8784f" opacity="0.5"/>
<circle cx="400.7" cy="435.8" r="0.77" fill="#a8784f" opacity="0.5"/>
<circle cx="411.7" cy="436.2" r="0.50" fill="#a8784f" opacity="0.5"/>
<circle cx="384.0" cy="416.3" r="0.63" fill="#a8784f" opacity="0.5"/>
<circle cx="368.9" cy="428.4" r="0.73" fill="#a8784f" opacity="0.5"/>
<circle cx="384.0" cy="423.9" r="0.36" fill="#a8784f" opacity="0.5"/>
<circle cx="408.7" cy="422.2" r="0.42" fill="#a8784f" opacity="0.5"/>
<circle cx="411.0" cy="421.4" r="0.65" fill="#a8784f" opacity="0.5"/>
<circle cx="401.0" cy="419.5" r="0.49" fill="#a8784f" opacity="0.5"/>
<circle cx="397.6" cy="422.4" r="0.67" fill="#a8784f" opacity="0.5"/>
<circle cx="411.2" cy="441.5" r="0.64" fill="#a8784f" opacity="0.5"/>
<circle cx="420.3" cy="419.0" r="0.55" fill="#a8784f" opacity="0.5"/>
<circle cx="394.4" cy="436.3" r="0.56" fill="#a8784f" opacity="0.5"/>
<circle cx="385.5" cy="427.7" r="0.73" fill="#a8784f" opacity="0.5"/>
<circle cx="367.2" cy="426.9" r="0.43" fill="#a8784f" opacity="0.5"/>
<circle cx="391.7" cy="430.4" r="0.48" fill="#a8784f" opacity="0.5"/>
<circle cx="389.8" cy="444.0" r="0.50" fill="#a8784f" opacity="0.5"/>
<circle cx="408.3" cy="400.3" r="0.41" fill="#a8784f" opacity="0.5"/>
<circle cx="384.0" cy="433.6" r="0.62" fill="#a8784f" opacity="0.5"/>
<circle cx="402.0" cy="426.4" r="0.67" fill="#a8784f" opacity="0.5"/>
<circle cx="390.8" cy="430.4" r="0.67" fill="#a8784f" opacity="0.5"/>
<circle cx="386.3" cy="435.9" r="0.52" fill="#a8784f" opacity="0.5"/>
<circle cx="393.4" cy="443.6" r="0.53" fill="#a8784f" opacity="0.5"/>
<circle cx="373.4" cy="438.1" r="0.46" fill="#a8784f" opacity="0.5"/>
<circle cx="397.0" cy="431.7" r="0.38" fill="#a8784f" opacity="0.5"/>
<circle cx="376.9" cy="426.2" r="0.69" fill="#a8784f" opacity="0.5"/>
<circle cx="367.0" cy="427.3" r="0.76" fill="#a8784f" opacity="0.5"/>
<circle cx="394.2" cy="429.1" r="0.39" fill="#a8784f" opacity="0.5"/>
<circle cx="376.1" cy="441.1" r="0.66" fill="#a8784f" opacity="0.5"/>
<circle cx="367.4" cy="459.8" r="0.33" fill="#a8784f" opacity="0.5"/>
<circle cx="397.1" cy="419.1" r="0.72" fill="#a8784f" opacity="0.5"/>
<circle cx="431.3" cy="436.2" r="0.66" fill="#a8784f" opacity="0.5"/>
<circle cx="412.2" cy="426.8" r="0.41" fill="#a8784f" opacity="0.5"/>
<circle cx="408.2" cy="425.0" r="0.37" fill="#a8784f" opacity="0.5"/>
<circle cx="377.1" cy="417.1" r="0.54" fill="#a8784f" opacity="0.5"/>
<circle cx="396.1" cy="434.5" r="0.59" fill="#a8784f" opacity="0.5"/>
<circle cx="383.8" cy="430.4" r="0.52" fill="#a8784f" opacity="0.5"/>
<circle cx="387.8" cy="404.2" r="0.54" fill="#a8784f" opacity="0.5"/>
<circle cx="379.9" cy="437.0" r="0.43" fill="#a8784f" opacity="0.5"/>
<circle cx="397.1" cy="443.7" r="0.38" fill="#a8784f" opacity="0.5"/>
<circle cx="387.7" cy="404.4" r="0.60" fill="#a8784f" opacity="0.5"/>
<circle cx="406.3" cy="430.1" r="0.52" fill="#a8784f" opacity="0.5"/>
<circle cx="425.8" cy="450.2" r="0.66" fill="#a8784f" opacity="0.5"/>
<circle cx="367.1" cy="427.7" r="0.42" fill="#a8784f" opacity="0.5"/>
<circle cx="394.0" cy="446.5" r="0.66" fill="#a8784f" opacity="0.5"/>
<circle cx="390.5" cy="426.6" r="0.60" fill="#a8784f" opacity="0.5"/>
<circle cx="413.3" cy="414.4" r="0.74" fill="#a8784f" opacity="0.5"/>
<circle cx="402.6" cy="426.8" r="0.46" fill="#a8784f" opacity="0.5"/>
<circle cx="350.4" cy="415.8" r="0.49" fill="#a8784f" opacity="0.5"/>
<circle cx="420.1" cy="417.4" r="0.56" fill="#a8784f" opacity="0.5"/>
<circle cx="363.8" cy="401.0" r="0.67" fill="#a8784f" opacity="0.5"/>
<circle cx="383.0" cy="456.3" r="0.42" fill="#a8784f" opacity="0.5"/>
<circle cx="364.5" cy="456.1" r="0.70" fill="#a8784f" opacity="0.5"/>
<circle cx="386.6" cy="439.7" r="0.60" fill="#a8784f" opacity="0.5"/>
<circle cx="404.7" cy="408.7" r="0.74" fill="#a8784f" opacity="0.5"/>
<circle cx="387.6" cy="400.0" r="0.60" fill="#a8784f" opacity="0.5"/>
<circle cx="380.8" cy="440.3" r="0.55" fill="#a8784f" opacity="0.5"/>
<circle cx="362.1" cy="422.8" r="0.45" fill="#a8784f" opacity="0.5"/>
<circle cx="414.7" cy="438.4" r="0.45" fill="#a8784f" opacity="0.5"/>
<circle cx="384.7" cy="431.7" r="0.69" fill="#a8784f" opacity="0.5"/>
<circle cx="389.6" cy="440.6" r="0.68" fill="#a8784f" opacity="0.5"/>
<circle cx="378.9" cy="427.7" r="0.72" fill="#a8784f" opacity="0.5"/>
<circle cx="378.9" cy="435.6" r="0.75" fill="#a8784f" opacity="0.5"/>
<circle cx="398.1" cy="403.6" r="0.44" fill="#a8784f" opacity="0.5"/>
<circle cx="421.2" cy="401.4" r="0.63" fill="#a8784f" opacity="0.5"/>
<circle cx="401.2" cy="424.6" r="0.62" fill="#a8784f" opacity="0.5"/>
<circle cx="402.0" cy="421.4" r="0.61" fill="#a8784f" opacity="0.5"/>
<circle cx="441.5" cy="411.9" r="0.61" fill="#a8784f" opacity="0.5"/>
<circle cx="425.6" cy="422.3" r="0.57" fill="#a8784f" opacity="0.5"/>
<circle cx="426.3" cy="418.1" r="0.65" fill="#a8784f" opacity="0.5"/>
<circle cx="437.3" cy="401.1" r="0.34" fill="#a8784f" opacity="0.5"/>
<circle cx="396.7" cy="401.4" r="0.56" fill="#a8784f" opacity="0.5"/>
<circle cx="413.7" cy="415.1" r="0.67" fill="#a8784f" opacity="0.5"/>
<circle cx="425.9" cy="402.5" r="0.45" fill="#a8784f" opacity="0.5"/>
<circle cx="425.3" cy="398.0" r="0.59" fill="#a8784f" opacity="0.5"/>
<circle cx="406.7" cy="408.1" r="0.42" fill="#a8784f" opacity="0.5"/>
<circle cx="408.5" cy="419.2" r="0.51" fill="#a8784f" opacity="0.5"/>
<circle cx="429.3" cy="422.4" r="0.44" fill="#a8784f" opacity="0.5"/>
<circle cx="419.9" cy="418.7" r="0.46" fill="#a8784f" opacity="0.5"/>
</g>
<rect x="360.2" y="394.5" width="78.40000000000003" height="61.0" fill="none" stroke="#1e1e1e" stroke-width="0.8"/>
<line x1="422.00" y1="451.00" x2="435.90" y2="451.00" stroke="#2c2c30" stroke-width="1.6" stroke-linecap="butt"/>
</g>
<rect x="473.00" y="302.70" width="13.00" height="8.50" fill="#c62036"/>
<rect x="473.00" y="316.90" width="13.00" height="8.50" fill="#145487"/>
<text x="488.90" y="309.60" font-size="7.07" text-anchor="start" font-style="italic" fill="#0a0a0a" stroke="#0a0a0a" stroke-width="0.18" textLength="21.85" lengthAdjust="spacingAndGlyphs">Tet1<tspan font-size="4.24" dy="-2.69" fill="#0a0a0a" stroke="none">+/+</tspan></text>
<text x="488.90" y="323.80" font-size="7.07" text-anchor="start" font-style="italic" fill="#0a0a0a" stroke="#0a0a0a" stroke-width="0.18" textLength="21.85" lengthAdjust="spacingAndGlyphs">Tet1<tspan font-size="4.24" dy="-2.69" fill="#555" stroke="none">-/-</tspan></text>
<text x="490.60" y="336.90" font-size="9.3" text-anchor="middle" font-weight="normal" font-style="normal" fill="#0a0a0a">3-Days</text>
<text x="491.00" y="408.70" font-size="9.3" text-anchor="middle" font-weight="normal" font-style="normal" fill="#0a0a0a">7-Days</text>
<text x="455.00" y="398.80" font-size="8.6" text-anchor="middle" font-weight="normal" font-style="normal" fill="#0a0a0a" transform="rotate(-90 455.00 398.80)" textLength="69.00" lengthAdjust="spacingAndGlyphs">FPN IHC (positive area %)</text>
<line x1="476.50" y1="345.90" x2="476.50" y2="394.10" stroke="#000" stroke-width="1.25" stroke-linecap="butt"/>
<line x1="473.80" y1="346.50" x2="476.50" y2="346.50" stroke="#000" stroke-width="1.25" stroke-linecap="butt"/>
<text x="473.10" y="349.31" font-size="7.8" text-anchor="end" font-weight="normal" font-style="normal" fill="#0a0a0a" textLength="9.54" lengthAdjust="spacingAndGlyphs">25</text>
<line x1="473.80" y1="356.50" x2="476.50" y2="356.50" stroke="#000" stroke-width="1.25" stroke-linecap="butt"/>
<text x="473.10" y="359.31" font-size="7.8" text-anchor="end" font-weight="normal" font-style="normal" fill="#0a0a0a" textLength="9.54" lengthAdjust="spacingAndGlyphs">20</text>
<line x1="473.80" y1="365.50" x2="476.50" y2="365.50" stroke="#000" stroke-width="1.25" stroke-linecap="butt"/>
<text x="473.10" y="368.31" font-size="7.8" text-anchor="end" font-weight="normal" font-style="normal" fill="#0a0a0a" textLength="9.54" lengthAdjust="spacingAndGlyphs">15</text>
<line x1="473.80" y1="374.50" x2="476.50" y2="374.50" stroke="#000" stroke-width="1.25" stroke-linecap="butt"/>
<text x="473.10" y="377.31" font-size="7.8" text-anchor="end" font-weight="normal" font-style="normal" fill="#0a0a0a" textLength="9.54" lengthAdjust="spacingAndGlyphs">10</text>
<line x1="473.80" y1="383.50" x2="476.50" y2="383.50" stroke="#000" stroke-width="1.25" stroke-linecap="butt"/>
<text x="473.10" y="386.31" font-size="7.8" text-anchor="end" font-weight="normal" font-style="normal" fill="#0a0a0a" textLength="4.77" lengthAdjust="spacingAndGlyphs">5</text>
<line x1="473.80" y1="393.50" x2="476.50" y2="393.50" stroke="#000" stroke-width="1.25" stroke-linecap="butt"/>
<text x="473.10" y="396.31" font-size="7.8" text-anchor="end" font-weight="normal" font-style="normal" fill="#0a0a0a" textLength="4.77" lengthAdjust="spacingAndGlyphs">0</text>
<line x1="475.90" y1="393.50" x2="505.50" y2="393.50" stroke="#000" stroke-width="1.25" stroke-linecap="butt"/>
<line x1="484.50" y1="393.50" x2="484.50" y2="396.40" stroke="#000" stroke-width="1.25" stroke-linecap="butt"/>
<line x1="496.50" y1="393.50" x2="496.50" y2="396.40" stroke="#000" stroke-width="1.25" stroke-linecap="butt"/>
<rect x="479.10" y="379.10" width="9.80" height="13.90" fill="#c62036"/>
<rect x="491.80" y="355.70" width="9.90" height="37.30" fill="#145487"/>
<circle cx="481.50" cy="378.80" r="1.6" fill="#2bb1e8" stroke="#04101f" stroke-width="1.3"/>
<circle cx="483.70" cy="380.00" r="1.6" fill="#2bb1e8" stroke="#04101f" stroke-width="1.3"/>
<circle cx="485.80" cy="381.40" r="1.6" fill="#2bb1e8" stroke="#04101f" stroke-width="1.3"/>
<circle cx="487.70" cy="382.60" r="1.6" fill="#2bb1e8" stroke="#04101f" stroke-width="1.3"/>
<rect x="495.05" y="352.65" width="3.7" height="3.7" fill="#2bb1e8" stroke="#04101f" stroke-width="1.3"/>
<rect x="492.45" y="354.25" width="3.7" height="3.7" fill="#2bb1e8" stroke="#04101f" stroke-width="1.3"/>
<rect x="496.45" y="355.55" width="3.7" height="3.7" fill="#2bb1e8" stroke="#04101f" stroke-width="1.3"/>
<rect x="498.95" y="357.25" width="3.7" height="3.7" fill="#2bb1e8" stroke="#04101f" stroke-width="1.3"/>
<line x1="480.30" y1="349.50" x2="501.70" y2="349.50" stroke="#262626" stroke-width="1.25" stroke-linecap="butt"/>
<text x="491.80" y="346.85" font-size="10" text-anchor="middle" font-weight="normal" font-style="normal" fill="#111">**</text>
<line x1="476.50" y1="413.90" x2="476.50" y2="460.10" stroke="#000" stroke-width="1.25" stroke-linecap="butt"/>
<line x1="473.80" y1="414.50" x2="476.50" y2="414.50" stroke="#000" stroke-width="1.25" stroke-linecap="butt"/>
<text x="473.10" y="417.31" font-size="7.8" text-anchor="end" font-weight="normal" font-style="normal" fill="#0a0a0a" textLength="9.54" lengthAdjust="spacingAndGlyphs">40</text>
<line x1="473.80" y1="424.50" x2="476.50" y2="424.50" stroke="#000" stroke-width="1.25" stroke-linecap="butt"/>
<text x="473.10" y="427.31" font-size="7.8" text-anchor="end" font-weight="normal" font-style="normal" fill="#0a0a0a" textLength="9.54" lengthAdjust="spacingAndGlyphs">30</text>
<line x1="473.80" y1="436.50" x2="476.50" y2="436.50" stroke="#000" stroke-width="1.25" stroke-linecap="butt"/>
<text x="473.10" y="439.31" font-size="7.8" text-anchor="end" font-weight="normal" font-style="normal" fill="#0a0a0a" textLength="9.54" lengthAdjust="spacingAndGlyphs">20</text>
<line x1="473.80" y1="447.50" x2="476.50" y2="447.50" stroke="#000" stroke-width="1.25" stroke-linecap="butt"/>
<text x="473.10" y="450.31" font-size="7.8" text-anchor="end" font-weight="normal" font-style="normal" fill="#0a0a0a" textLength="9.54" lengthAdjust="spacingAndGlyphs">10</text>
<line x1="473.80" y1="459.50" x2="476.50" y2="459.50" stroke="#000" stroke-width="1.25" stroke-linecap="butt"/>
<text x="473.10" y="462.31" font-size="7.8" text-anchor="end" font-weight="normal" font-style="normal" fill="#0a0a0a" textLength="4.77" lengthAdjust="spacingAndGlyphs">0</text>
<line x1="475.90" y1="459.50" x2="505.30" y2="459.50" stroke="#000" stroke-width="1.25" stroke-linecap="butt"/>
<line x1="484.50" y1="459.50" x2="484.50" y2="462.40" stroke="#000" stroke-width="1.25" stroke-linecap="butt"/>
<line x1="497.50" y1="459.50" x2="497.50" y2="462.40" stroke="#000" stroke-width="1.25" stroke-linecap="butt"/>
<rect x="478.80" y="446.80" width="10.10" height="12.60" fill="#c62036"/>
<rect x="492.20" y="433.50" width="9.80" height="25.90" fill="#145487"/>
<circle cx="481.60" cy="441.40" r="1.85" fill="#2bb1e8" stroke="#04101f" stroke-width="1.3"/>
<circle cx="486.80" cy="443.00" r="1.85" fill="#2bb1e8" stroke="#04101f" stroke-width="1.3"/>
<circle cx="481.90" cy="447.40" r="1.85" fill="#2bb1e8" stroke="#04101f" stroke-width="1.3"/>
<circle cx="486.80" cy="450.40" r="1.85" fill="#2bb1e8" stroke="#04101f" stroke-width="1.3"/>
<rect x="493.15" y="422.85" width="3.7" height="3.7" fill="#2bb1e8" stroke="#04101f" stroke-width="1.3"/>
<rect x="498.05" y="426.45" width="3.7" height="3.7" fill="#2bb1e8" stroke="#04101f" stroke-width="1.3"/>
<rect x="493.25" y="437.45" width="3.7" height="3.7" fill="#2bb1e8" stroke="#04101f" stroke-width="1.3"/>
<rect x="498.15" y="437.45" width="3.7" height="3.7" fill="#2bb1e8" stroke="#04101f" stroke-width="1.3"/>
<line x1="480.40" y1="420.50" x2="502.00" y2="420.50" stroke="#262626" stroke-width="1.25" stroke-linecap="butt"/>
<text x="492.20" y="419.15" font-size="10" text-anchor="middle" font-weight="normal" font-style="normal" fill="#111">*</text>
<text transform="translate(7.70 487.20) scale(1.0 1)" x="0" y="0" font-size="11.6" font-weight="bold" fill="#000">H</text>
<text x="70.70" y="509.90" font-size="8.5" text-anchor="middle" font-weight="normal" font-style="normal" fill="#0a0a0a">Control</text>
<text x="113.60" y="509.90" font-size="8.5" text-anchor="middle" font-weight="normal" font-style="normal" fill="#0a0a0a">FAC</text>
<text x="156.30" y="509.90" font-size="8.5" text-anchor="middle" font-weight="normal" font-style="normal" fill="#0a0a0a">DFO</text>
<line x1="50.10" y1="513.50" x2="91.00" y2="513.50" stroke="#1a1a1a" stroke-width="1.3" stroke-linecap="butt"/>
<line x1="93.20" y1="513.50" x2="133.80" y2="513.50" stroke="#1a1a1a" stroke-width="1.3" stroke-linecap="butt"/>
<line x1="136.50" y1="513.50" x2="175.70" y2="513.50" stroke="#1a1a1a" stroke-width="1.3" stroke-linecap="butt"/>
<text x="177.80" y="516.90" font-size="8.6" text-anchor="start" font-weight="normal" font-style="normal" fill="#0a0a0a">kD</text>
<text x="51.8" y="520.4" font-size="5.3" font-style="italic" font-weight="bold" fill="#222" textLength="17.2" lengthAdjust="spacingAndGlyphs">Tet1<tspan font-size="3.4" dy="-1.7" font-weight="normal">+/+</tspan></text>
<text x="73.6" y="520.4" font-size="5.3" font-style="italic" font-weight="bold" fill="#222" textLength="17.2" lengthAdjust="spacingAndGlyphs">Tet1<tspan font-size="3.4" dy="-1.7" font-weight="normal">-/-</tspan></text>
<text x="94.7" y="520.4" font-size="5.3" font-style="italic" font-weight="bold" fill="#222" textLength="17.2" lengthAdjust="spacingAndGlyphs">Tet1<tspan font-size="3.4" dy="-1.7" font-weight="normal">+/+</tspan></text>
<text x="115.8" y="520.4" font-size="5.3" font-style="italic" font-weight="bold" fill="#222" textLength="17.2" lengthAdjust="spacingAndGlyphs">Tet1<tspan font-size="3.4" dy="-1.7" font-weight="normal">-/-</tspan></text>
<text x="137.0" y="520.4" font-size="5.3" font-style="italic" font-weight="bold" fill="#222" textLength="17.2" lengthAdjust="spacingAndGlyphs">Tet1<tspan font-size="3.4" dy="-1.7" font-weight="normal">+/+</tspan></text>
<text x="158.1" y="520.4" font-size="5.3" font-style="italic" font-weight="bold" fill="#222" textLength="17.2" lengthAdjust="spacingAndGlyphs">Tet1<tspan font-size="3.4" dy="-1.7" font-weight="normal">-/-</tspan></text>
<g><clipPath id="cp49_526"><rect x="49.3" y="526.4" width="120.7" height="18.0"/></clipPath>
<rect x="49.30" y="526.40" width="120.70" height="18.00" fill="#b9b9b9"/>
<g clip-path="url(#cp49_526)" filter="url(#b2)">
<rect x="51.50" y="534.40" width="18.00" height="5.20" rx="2.47" fill="#3a3a3a" opacity="0.7"/>
<rect x="72.50" y="532.80" width="18.00" height="6.40" rx="3.04" fill="#1c1c1c" opacity="0.9"/>
<rect x="93.10" y="531.20" width="17.00" height="7.60" rx="3.61" fill="#222" opacity="0.85"/>
<rect x="111.50" y="526.50" width="18.40" height="17.00" rx="8.07" fill="#0a0a0a" opacity="0.8"/>
<rect x="113.20" y="528.50" width="15.00" height="11.00" rx="5.22" fill="#050505" opacity="0.75"/>
<rect x="131.70" y="533.90" width="16.00" height="5.20" rx="2.47" fill="#4a4a4a" opacity="0.7"/>
<rect x="149.80" y="533.10" width="18.00" height="5.80" rx="2.75" fill="#333" opacity="0.8"/>
</g>
<rect x="49.3" y="526.4" width="120.7" height="18.0" fill="none" stroke="#1c1c1c" stroke-width="1.1"/></g>
<g><clipPath id="cp49_549"><rect x="49.3" y="549.5" width="120.7" height="18.600000000000023"/></clipPath>
<rect x="49.30" y="549.50" width="120.70" height="18.60" fill="#a9a9a9"/>
<g clip-path="url(#cp49_549)" filter="url(#b2)">
<rect x="50.00" y="554.00" width="21.00" height="10.00" rx="4.75" fill="#050505" opacity="1"/>
<rect x="71.50" y="554.90" width="20.00" height="9.20" rx="4.37" fill="#050505" opacity="1"/>
<rect x="91.10" y="552.20" width="21.00" height="11.60" rx="5.51" fill="#030303" opacity="1"/>
<rect x="110.70" y="553.90" width="20.00" height="9.20" rx="4.37" fill="#050505" opacity="1"/>
<rect x="130.20" y="556.20" width="19.00" height="7.60" rx="3.61" fill="#080808" opacity="1"/>
<rect x="149.30" y="554.70" width="19.00" height="7.60" rx="3.61" fill="#080808" opacity="1"/>
</g>
<rect x="49.3" y="549.5" width="120.7" height="18.600000000000023" fill="none" stroke="#1c1c1c" stroke-width="1.1"/></g>
<g><clipPath id="cp49_571"><rect x="49.3" y="571.9" width="120.7" height="17.800000000000068"/></clipPath>
<rect x="49.30" y="571.90" width="120.70" height="17.80" fill="#a2a2a2"/>
<g clip-path="url(#cp49_571)" filter="url(#b2)">
<rect x="50.50" y="577.90" width="20.00" height="7.20" rx="3.42" fill="#080808" opacity="1"/>
<rect x="71.50" y="577.70" width="20.00" height="7.60" rx="3.61" fill="#080808" opacity="1"/>
<rect x="92.10" y="576.70" width="19.00" height="6.60" rx="3.13" fill="#0c0c0c" opacity="1"/>
<rect x="111.20" y="577.00" width="19.00" height="7.00" rx="3.32" fill="#0a0a0a" opacity="1"/>
<rect x="129.70" y="577.20" width="20.00" height="7.60" rx="3.61" fill="#080808" opacity="1"/>
<rect x="148.80" y="576.50" width="20.00" height="8.00" rx="3.80" fill="#060606" opacity="1"/>
</g>
<rect x="49.3" y="571.9" width="120.7" height="17.800000000000068" fill="none" stroke="#1c1c1c" stroke-width="1.1"/></g>
<text x="46.10" y="538.70" font-size="8.3" text-anchor="end" font-weight="normal" font-style="normal" fill="#0a0a0a" textLength="14.60" lengthAdjust="spacingAndGlyphs">FPN</text>
<text x="46.10" y="562.90" font-size="8.3" text-anchor="end" font-weight="normal" font-style="normal" fill="#0a0a0a" textLength="14.60" lengthAdjust="spacingAndGlyphs">FTH</text>
<text x="46.10" y="583.70" font-size="8.3" text-anchor="end" font-weight="normal" font-style="normal" fill="#0a0a0a" textLength="27.60" lengthAdjust="spacingAndGlyphs">GAPDH</text>
<line x1="170.00" y1="529.50" x2="175.70" y2="529.50" stroke="#000" stroke-width="1.1" stroke-linecap="butt"/>
<text x="177.80" y="532.50" font-size="8.0" text-anchor="start" font-weight="normal" font-style="normal" fill="#0a0a0a">70</text>
<line x1="170.00" y1="543.50" x2="175.70" y2="543.50" stroke="#000" stroke-width="1.1" stroke-linecap="butt"/>
<text x="177.80" y="546.00" font-size="8.0" text-anchor="start" font-weight="normal" font-style="normal" fill="#0a0a0a">55</text>
<line x1="170.00" y1="559.50" x2="175.70" y2="559.50" stroke="#000" stroke-width="1.1" stroke-linecap="butt"/>
<text x="177.80" y="561.90" font-size="8.0" text-anchor="start" font-weight="normal" font-style="normal" fill="#0a0a0a">20</text>
<line x1="170.00" y1="580.50" x2="175.70" y2="580.50" stroke="#000" stroke-width="1.1" stroke-linecap="butt"/>
<text x="177.80" y="583.00" font-size="8.0" text-anchor="start" font-weight="normal" font-style="normal" fill="#0a0a0a">35</text>
<rect x="250.40" y="477.50" width="12.90" height="8.30" fill="#c62036"/>
<rect x="305.80" y="477.50" width="13.80" height="8.30" fill="#145487"/>
<text x="268.80" y="484.40" font-size="7.07" text-anchor="start" font-style="italic" fill="#0a0a0a" stroke="#0a0a0a" stroke-width="0.18" textLength="21.85" lengthAdjust="spacingAndGlyphs">Tet1<tspan font-size="4.24" dy="-2.69" fill="#0a0a0a" stroke="none">+/+</tspan></text>
<text x="324.20" y="484.40" font-size="7.07" text-anchor="start" font-style="italic" fill="#0a0a0a" stroke="#0a0a0a" stroke-width="0.18" textLength="21.85" lengthAdjust="spacingAndGlyphs">Tet1<tspan font-size="4.24" dy="-2.69" fill="#555" stroke="none">-/-</tspan></text>
<line x1="238.50" y1="492.90" x2="238.50" y2="589.10" stroke="#000" stroke-width="1.25" stroke-linecap="butt"/>
<line x1="235.40" y1="493.50" x2="238.50" y2="493.50" stroke="#000" stroke-width="1.25" stroke-linecap="butt"/>
<text x="234.70" y="496.31" font-size="7.8" text-anchor="end" font-weight="normal" font-style="normal" fill="#0a0a0a" textLength="4.77" lengthAdjust="spacingAndGlyphs">5</text>
<line x1="235.40" y1="510.50" x2="238.50" y2="510.50" stroke="#000" stroke-width="1.25" stroke-linecap="butt"/>
<text x="234.70" y="513.31" font-size="7.8" text-anchor="end" font-weight="normal" font-style="normal" fill="#0a0a0a" textLength="4.77" lengthAdjust="spacingAndGlyphs">4</text>
<line x1="235.40" y1="531.50" x2="238.50" y2="531.50" stroke="#000" stroke-width="1.25" stroke-linecap="butt"/>
<text x="234.70" y="534.31" font-size="7.8" text-anchor="end" font-weight="normal" font-style="normal" fill="#0a0a0a" textLength="4.77" lengthAdjust="spacingAndGlyphs">3</text>
<line x1="235.40" y1="550.50" x2="238.50" y2="550.50" stroke="#000" stroke-width="1.25" stroke-linecap="butt"/>
<text x="234.70" y="553.31" font-size="7.8" text-anchor="end" font-weight="normal" font-style="normal" fill="#0a0a0a" textLength="4.77" lengthAdjust="spacingAndGlyphs">2</text>
<line x1="235.40" y1="569.50" x2="238.50" y2="569.50" stroke="#000" stroke-width="1.25" stroke-linecap="butt"/>
<text x="234.70" y="572.31" font-size="7.8" text-anchor="end" font-weight="normal" font-style="normal" fill="#0a0a0a" textLength="4.77" lengthAdjust="spacingAndGlyphs">1</text>
<line x1="235.40" y1="588.50" x2="238.50" y2="588.50" stroke="#000" stroke-width="1.25" stroke-linecap="butt"/>
<text x="234.70" y="591.31" font-size="7.8" text-anchor="end" font-weight="normal" font-style="normal" fill="#0a0a0a" textLength="4.77" lengthAdjust="spacingAndGlyphs">0</text>
<line x1="237.90" y1="588.50" x2="338.20" y2="588.50" stroke="#000" stroke-width="1.25" stroke-linecap="butt"/>
<line x1="257.50" y1="588.50" x2="257.50" y2="591.20" stroke="#000" stroke-width="1.25" stroke-linecap="butt"/>
<line x1="288.50" y1="588.50" x2="288.50" y2="591.20" stroke="#000" stroke-width="1.25" stroke-linecap="butt"/>
<line x1="321.50" y1="588.50" x2="321.50" y2="591.20" stroke="#000" stroke-width="1.25" stroke-linecap="butt"/>
<text x="210.60" y="540.00" font-size="9.6" text-anchor="middle" font-weight="normal" font-style="normal" fill="#0a0a0a" transform="rotate(-90 210.60 540.00)" textLength="56.00" lengthAdjust="spacingAndGlyphs">FPN Protein level</text>
<text x="222.20" y="540.00" font-size="9.6" text-anchor="middle" font-weight="normal" font-style="normal" fill="#0a0a0a" transform="rotate(-90 222.20 540.00)" textLength="66.00" lengthAdjust="spacingAndGlyphs">(relative to GAPDH)</text>
<rect x="243.30" y="569.70" width="13.70" height="18.60" fill="#c62036"/>
<rect x="257.00" y="567.90" width="13.50" height="20.40" fill="#145487"/>
<line x1="250.50" y1="569.70" x2="250.50" y2="567.50" stroke="#000" stroke-width="1.1" stroke-linecap="butt"/>
<line x1="247.90" y1="567.50" x2="253.10" y2="567.50" stroke="#000" stroke-width="1.1" stroke-linecap="butt"/>
<line x1="263.50" y1="567.90" x2="263.50" y2="564.50" stroke="#000" stroke-width="1.1" stroke-linecap="butt"/>
<line x1="260.90" y1="564.50" x2="266.10" y2="564.50" stroke="#000" stroke-width="1.1" stroke-linecap="butt"/>
<rect x="274.90" y="544.70" width="13.70" height="43.60" fill="#c62036"/>
<rect x="288.60" y="528.10" width="13.70" height="60.20" fill="#145487"/>
<line x1="281.50" y1="544.70" x2="281.50" y2="540.50" stroke="#000" stroke-width="1.1" stroke-linecap="butt"/>
<line x1="278.90" y1="540.50" x2="284.10" y2="540.50" stroke="#000" stroke-width="1.1" stroke-linecap="butt"/>
<line x1="295.50" y1="528.10" x2="295.50" y2="522.50" stroke="#000" stroke-width="1.1" stroke-linecap="butt"/>
<line x1="292.90" y1="522.50" x2="298.10" y2="522.50" stroke="#000" stroke-width="1.1" stroke-linecap="butt"/>
<rect x="307.40" y="571.20" width="13.70" height="17.10" fill="#c62036"/>
<rect x="321.10" y="568.40" width="13.50" height="19.90" fill="#145487"/>
<line x1="314.50" y1="571.20" x2="314.50" y2="568.50" stroke="#000" stroke-width="1.1" stroke-linecap="butt"/>
<line x1="311.90" y1="568.50" x2="317.10" y2="568.50" stroke="#000" stroke-width="1.1" stroke-linecap="butt"/>
<line x1="327.50" y1="568.40" x2="327.50" y2="564.50" stroke="#000" stroke-width="1.1" stroke-linecap="butt"/>
<line x1="324.90" y1="564.50" x2="330.10" y2="564.50" stroke="#000" stroke-width="1.1" stroke-linecap="butt"/>
<circle cx="250.60" cy="562.80" r="1.85" fill="#2bb1e8" stroke="#04101f" stroke-width="1.3"/>
<circle cx="245.90" cy="566.80" r="1.85" fill="#2bb1e8" stroke="#04101f" stroke-width="1.3"/>
<circle cx="254.30" cy="567.90" r="1.85" fill="#2bb1e8" stroke="#04101f" stroke-width="1.3"/>
<circle cx="250.60" cy="570.80" r="1.85" fill="#2bb1e8" stroke="#04101f" stroke-width="1.3"/>
<circle cx="250.60" cy="576.30" r="1.85" fill="#2bb1e8" stroke="#04101f" stroke-width="1.3"/>
<rect x="259.75" y="558.35" width="3.7" height="3.7" fill="#2bb1e8" stroke="#04101f" stroke-width="1.3"/>
<rect x="264.65" y="562.75" width="3.7" height="3.7" fill="#2bb1e8" stroke="#04101f" stroke-width="1.3"/>
<rect x="256.85" y="566.05" width="3.7" height="3.7" fill="#2bb1e8" stroke="#04101f" stroke-width="1.3"/>
<rect x="261.35" y="567.15" width="3.7" height="3.7" fill="#2bb1e8" stroke="#04101f" stroke-width="1.3"/>
<rect x="266.85" y="568.75" width="3.7" height="3.7" fill="#2bb1e8" stroke="#04101f" stroke-width="1.3"/>
<circle cx="280.40" cy="533.70" r="1.85" fill="#2bb1e8" stroke="#04101f" stroke-width="1.3"/>
<circle cx="284.80" cy="538.10" r="1.85" fill="#2bb1e8" stroke="#04101f" stroke-width="1.3"/>
<circle cx="278.00" cy="548.00" r="1.85" fill="#2bb1e8" stroke="#04101f" stroke-width="1.3"/>
<circle cx="282.40" cy="549.10" r="1.85" fill="#2bb1e8" stroke="#04101f" stroke-width="1.3"/>
<circle cx="287.10" cy="550.70" r="1.85" fill="#2bb1e8" stroke="#04101f" stroke-width="1.3"/>
<rect x="292.25" y="512.35" width="3.7" height="3.7" fill="#2bb1e8" stroke="#04101f" stroke-width="1.3"/>
<rect x="297.35" y="517.45" width="3.7" height="3.7" fill="#2bb1e8" stroke="#04101f" stroke-width="1.3"/>
<rect x="294.05" y="524.05" width="3.7" height="3.7" fill="#2bb1e8" stroke="#04101f" stroke-width="1.3"/>
<rect x="294.05" y="530.65" width="3.7" height="3.7" fill="#2bb1e8" stroke="#04101f" stroke-width="1.3"/>
<rect x="294.05" y="542.15" width="3.7" height="3.7" fill="#2bb1e8" stroke="#04101f" stroke-width="1.3"/>
<circle cx="312.90" cy="563.50" r="1.85" fill="#2bb1e8" stroke="#04101f" stroke-width="1.3"/>
<circle cx="316.90" cy="567.90" r="1.85" fill="#2bb1e8" stroke="#04101f" stroke-width="1.3"/>
<circle cx="310.70" cy="573.50" r="1.85" fill="#2bb1e8" stroke="#04101f" stroke-width="1.3"/>
<circle cx="314.70" cy="575.20" r="1.85" fill="#2bb1e8" stroke="#04101f" stroke-width="1.3"/>
<circle cx="319.60" cy="578.50" r="1.85" fill="#2bb1e8" stroke="#04101f" stroke-width="1.3"/>
<rect x="325.45" y="554.55" width="3.7" height="3.7" fill="#2bb1e8" stroke="#04101f" stroke-width="1.3"/>
<rect x="325.45" y="565.45" width="3.7" height="3.7" fill="#2bb1e8" stroke="#04101f" stroke-width="1.3"/>
<rect x="321.45" y="568.25" width="3.7" height="3.7" fill="#2bb1e8" stroke="#04101f" stroke-width="1.3"/>
<rect x="326.15" y="569.35" width="3.7" height="3.7" fill="#2bb1e8" stroke="#04101f" stroke-width="1.3"/>
<rect x="330.35" y="572.75" width="3.7" height="3.7" fill="#2bb1e8" stroke="#04101f" stroke-width="1.3"/>
<line x1="280.20" y1="503.50" x2="301.90" y2="503.50" stroke="#262626" stroke-width="1.25" stroke-linecap="butt"/>
<text x="291.90" y="501.85" font-size="10" text-anchor="middle" font-weight="normal" font-style="normal" fill="#111">*</text>
<text x="257.00" y="601.40" font-size="7.9" text-anchor="middle" font-weight="normal" font-style="normal" fill="#0a0a0a">Control</text>
<text x="288.60" y="601.40" font-size="7.9" text-anchor="middle" font-weight="normal" font-style="normal" fill="#0a0a0a">FAC</text>
<text x="321.10" y="601.40" font-size="7.9" text-anchor="middle" font-weight="normal" font-style="normal" fill="#0a0a0a">DFO</text>
<line x1="390.50" y1="492.90" x2="390.50" y2="590.10" stroke="#000" stroke-width="1.25" stroke-linecap="butt"/>
<line x1="385.60" y1="493.50" x2="390.50" y2="493.50" stroke="#000" stroke-width="1.25" stroke-linecap="butt"/>
<text x="384.40" y="496.31" font-size="7.8" text-anchor="end" font-weight="normal" font-style="normal" fill="#0a0a0a" textLength="4.77" lengthAdjust="spacingAndGlyphs">3</text>
<line x1="385.60" y1="525.50" x2="390.50" y2="525.50" stroke="#000" stroke-width="1.25" stroke-linecap="butt"/>
<text x="384.40" y="528.31" font-size="7.8" text-anchor="end" font-weight="normal" font-style="normal" fill="#0a0a0a" textLength="4.77" lengthAdjust="spacingAndGlyphs">2</text>
<line x1="385.60" y1="557.50" x2="390.50" y2="557.50" stroke="#000" stroke-width="1.25" stroke-linecap="butt"/>
<text x="384.40" y="560.31" font-size="7.8" text-anchor="end" font-weight="normal" font-style="normal" fill="#0a0a0a" textLength="4.77" lengthAdjust="spacingAndGlyphs">1</text>
<line x1="385.60" y1="589.50" x2="390.50" y2="589.50" stroke="#000" stroke-width="1.25" stroke-linecap="butt"/>
<text x="384.40" y="592.31" font-size="7.8" text-anchor="end" font-weight="normal" font-style="normal" fill="#0a0a0a" textLength="4.77" lengthAdjust="spacingAndGlyphs">0</text>
<line x1="389.90" y1="589.50" x2="488.60" y2="589.50" stroke="#000" stroke-width="1.25" stroke-linecap="butt"/>
<line x1="407.50" y1="589.50" x2="407.50" y2="592.20" stroke="#000" stroke-width="1.25" stroke-linecap="butt"/>
<line x1="439.50" y1="589.50" x2="439.50" y2="592.20" stroke="#000" stroke-width="1.25" stroke-linecap="butt"/>
<line x1="471.50" y1="589.50" x2="471.50" y2="592.20" stroke="#000" stroke-width="1.25" stroke-linecap="butt"/>
<text x="362.60" y="540.60" font-size="9.6" text-anchor="middle" font-weight="normal" font-style="normal" fill="#0a0a0a" transform="rotate(-90 362.60 540.60)" textLength="56.00" lengthAdjust="spacingAndGlyphs">FTH Protein level</text>
<text x="374.60" y="540.60" font-size="9.6" text-anchor="middle" font-weight="normal" font-style="normal" fill="#0a0a0a" transform="rotate(-90 374.60 540.60)" textLength="66.00" lengthAdjust="spacingAndGlyphs">(relative to GAPDH)</text>
<rect x="394.40" y="558.00" width="13.20" height="31.50" fill="#c62036"/>
<rect x="407.60" y="559.10" width="13.80" height="30.40" fill="#145487"/>
<line x1="401.50" y1="558.00" x2="401.50" y2="554.50" stroke="#000" stroke-width="1.1" stroke-linecap="butt"/>
<line x1="398.90" y1="554.50" x2="404.10" y2="554.50" stroke="#000" stroke-width="1.1" stroke-linecap="butt"/>
<line x1="414.50" y1="559.10" x2="414.50" y2="555.50" stroke="#000" stroke-width="1.1" stroke-linecap="butt"/>
<line x1="411.90" y1="555.50" x2="417.10" y2="555.50" stroke="#000" stroke-width="1.1" stroke-linecap="butt"/>
<rect x="426.00" y="529.90" width="13.30" height="59.60" fill="#c62036"/>
<rect x="439.30" y="554.00" width="13.70" height="35.50" fill="#145487"/>
<line x1="432.50" y1="529.90" x2="432.50" y2="520.50" stroke="#000" stroke-width="1.1" stroke-linecap="butt"/>
<line x1="429.90" y1="520.50" x2="435.10" y2="520.50" stroke="#000" stroke-width="1.1" stroke-linecap="butt"/>
<line x1="446.50" y1="554.00" x2="446.50" y2="549.50" stroke="#000" stroke-width="1.1" stroke-linecap="butt"/>
<line x1="443.90" y1="549.50" x2="449.10" y2="549.50" stroke="#000" stroke-width="1.1" stroke-linecap="butt"/>
<rect x="457.40" y="564.60" width="13.70" height="24.90" fill="#c62036"/>
<rect x="471.10" y="560.90" width="13.30" height="28.60" fill="#145487"/>
<line x1="464.50" y1="564.60" x2="464.50" y2="556.50" stroke="#000" stroke-width="1.1" stroke-linecap="butt"/>
<line x1="461.90" y1="556.50" x2="467.10" y2="556.50" stroke="#000" stroke-width="1.1" stroke-linecap="butt"/>
<line x1="477.50" y1="560.90" x2="477.50" y2="558.50" stroke="#000" stroke-width="1.1" stroke-linecap="butt"/>
<line x1="474.90" y1="558.50" x2="480.10" y2="558.50" stroke="#000" stroke-width="1.1" stroke-linecap="butt"/>
<circle cx="396.60" cy="552.00" r="1.85" fill="#2bb1e8" stroke="#04101f" stroke-width="1.3"/>
<circle cx="401.00" cy="553.10" r="1.85" fill="#2bb1e8" stroke="#04101f" stroke-width="1.3"/>
<circle cx="406.10" cy="555.80" r="1.85" fill="#2bb1e8" stroke="#04101f" stroke-width="1.3"/>
<circle cx="399.50" cy="560.20" r="1.85" fill="#2bb1e8" stroke="#04101f" stroke-width="1.3"/>
<circle cx="403.70" cy="564.20" r="1.85" fill="#2bb1e8" stroke="#04101f" stroke-width="1.3"/>
<rect x="412.45" y="545.55" width="3.7" height="3.7" fill="#2bb1e8" stroke="#04101f" stroke-width="1.3"/>
<rect x="408.05" y="557.65" width="3.7" height="3.7" fill="#2bb1e8" stroke="#04101f" stroke-width="1.3"/>
<rect x="410.65" y="557.65" width="3.7" height="3.7" fill="#2bb1e8" stroke="#04101f" stroke-width="1.3"/>
<rect x="413.95" y="558.35" width="3.7" height="3.7" fill="#2bb1e8" stroke="#04101f" stroke-width="1.3"/>
<rect x="417.55" y="559.05" width="3.7" height="3.7" fill="#2bb1e8" stroke="#04101f" stroke-width="1.3"/>
<circle cx="433.50" cy="500.00" r="1.85" fill="#2bb1e8" stroke="#04101f" stroke-width="1.3"/>
<circle cx="433.50" cy="520.40" r="1.85" fill="#2bb1e8" stroke="#04101f" stroke-width="1.3"/>
<circle cx="433.50" cy="537.40" r="1.85" fill="#2bb1e8" stroke="#04101f" stroke-width="1.3"/>
<circle cx="429.80" cy="542.90" r="1.85" fill="#2bb1e8" stroke="#04101f" stroke-width="1.3"/>
<circle cx="437.50" cy="543.60" r="1.85" fill="#2bb1e8" stroke="#04101f" stroke-width="1.3"/>
<rect x="444.45" y="536.85" width="3.7" height="3.7" fill="#2bb1e8" stroke="#04101f" stroke-width="1.3"/>
<rect x="444.95" y="550.55" width="3.7" height="3.7" fill="#2bb1e8" stroke="#04101f" stroke-width="1.3"/>
<rect x="441.15" y="555.05" width="3.7" height="3.7" fill="#2bb1e8" stroke="#04101f" stroke-width="1.3"/>
<rect x="444.95" y="555.65" width="3.7" height="3.7" fill="#2bb1e8" stroke="#04101f" stroke-width="1.3"/>
<rect x="449.35" y="557.25" width="3.7" height="3.7" fill="#2bb1e8" stroke="#04101f" stroke-width="1.3"/>
<circle cx="461.40" cy="555.10" r="1.85" fill="#2bb1e8" stroke="#04101f" stroke-width="1.3"/>
<circle cx="465.60" cy="555.80" r="1.85" fill="#2bb1e8" stroke="#04101f" stroke-width="1.3"/>
<circle cx="470.20" cy="558.40" r="1.85" fill="#2bb1e8" stroke="#04101f" stroke-width="1.3"/>
<circle cx="465.60" cy="566.40" r="1.85" fill="#2bb1e8" stroke="#04101f" stroke-width="1.3"/>
<circle cx="465.10" cy="583.40" r="1.85" fill="#2bb1e8" stroke="#04101f" stroke-width="1.3"/>
<rect x="473.65" y="556.15" width="3.7" height="3.7" fill="#2bb1e8" stroke="#04101f" stroke-width="1.3"/>
<rect x="476.55" y="559.05" width="3.7" height="3.7" fill="#2bb1e8" stroke="#04101f" stroke-width="1.3"/>
<rect x="481.45" y="560.95" width="3.7" height="3.7" fill="#2bb1e8" stroke="#04101f" stroke-width="1.3"/>
<rect x="473.95" y="566.75" width="3.7" height="3.7" fill="#2bb1e8" stroke="#04101f" stroke-width="1.3"/>
<rect x="478.75" y="567.15" width="3.7" height="3.7" fill="#2bb1e8" stroke="#04101f" stroke-width="1.3"/>
<line x1="428.70" y1="494.50" x2="450.30" y2="494.50" stroke="#262626" stroke-width="1.25" stroke-linecap="butt"/>
<text x="440.20" y="492.95" font-size="10" text-anchor="middle" font-weight="normal" font-style="normal" fill="#111">*</text>
<text x="407.60" y="601.40" font-size="7.9" text-anchor="middle" font-weight="normal" font-style="normal" fill="#0a0a0a">Control</text>
<text x="439.30" y="601.40" font-size="7.9" text-anchor="middle" font-weight="normal" font-style="normal" fill="#0a0a0a">FAC</text>
<text x="471.10" y="601.40" font-size="7.9" text-anchor="middle" font-weight="normal" font-style="normal" fill="#0a0a0a">DFO</text>
<rect x="0" y="0" width="520" height="1.2" fill="#000"/>
<rect x="0" y="0" width="1.1" height="614" fill="#000"/>
<rect x="518.5" y="0" width="1.5" height="614" fill="#000"/>
<rect x="0" y="612.3" width="520" height="1.7" fill="#000"/>
</svg></body></html>
